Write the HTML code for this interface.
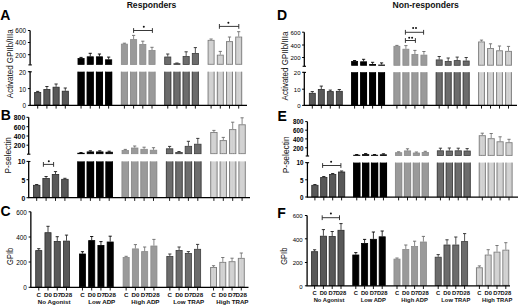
<!DOCTYPE html>
<html><head><meta charset="utf-8"><style>
html,body{margin:0;padding:0;background:#fff;}
body{width:520px;height:307px;overflow:hidden;}
svg{display:block;font-family:"Liberation Sans", sans-serif;}
</style></head><body>
<svg width="520" height="307" viewBox="0 0 520 307">
<rect x="0" y="0" width="520" height="307" fill="#fff"/>
<rect x="34.62" y="92.40" width="6.15" height="12.60" fill="#585858" stroke="#2a2a2a" stroke-width="0.8"/>
<line x1="37.70" y1="91.40" x2="37.70" y2="92.00" stroke="#1a1a1a" stroke-width="0.8"/>
<line x1="36.10" y1="91.40" x2="39.30" y2="91.40" stroke="#1a1a1a" stroke-width="0.9"/>
<line x1="37.70" y1="105.40" x2="37.70" y2="108.60" stroke="#000" stroke-width="0.9"/>
<rect x="43.83" y="89.50" width="6.15" height="15.50" fill="#585858" stroke="#2a2a2a" stroke-width="0.8"/>
<line x1="46.90" y1="86.50" x2="46.90" y2="89.10" stroke="#1a1a1a" stroke-width="0.8"/>
<line x1="45.30" y1="86.50" x2="48.50" y2="86.50" stroke="#1a1a1a" stroke-width="0.9"/>
<line x1="46.90" y1="105.40" x2="46.90" y2="108.60" stroke="#000" stroke-width="0.9"/>
<rect x="53.02" y="87.20" width="6.15" height="17.80" fill="#585858" stroke="#2a2a2a" stroke-width="0.8"/>
<line x1="56.10" y1="84.00" x2="56.10" y2="86.80" stroke="#1a1a1a" stroke-width="0.8"/>
<line x1="54.50" y1="84.00" x2="57.70" y2="84.00" stroke="#1a1a1a" stroke-width="0.9"/>
<line x1="56.10" y1="105.40" x2="56.10" y2="108.60" stroke="#000" stroke-width="0.9"/>
<rect x="62.22" y="91.20" width="6.15" height="13.80" fill="#585858" stroke="#2a2a2a" stroke-width="0.8"/>
<line x1="65.30" y1="88.00" x2="65.30" y2="90.80" stroke="#1a1a1a" stroke-width="0.8"/>
<line x1="63.70" y1="88.00" x2="66.90" y2="88.00" stroke="#1a1a1a" stroke-width="0.9"/>
<line x1="65.30" y1="105.40" x2="65.30" y2="108.60" stroke="#000" stroke-width="0.9"/>
<rect x="77.98" y="58.50" width="6.15" height="5.90" fill="#000000" stroke="#000000" stroke-width="0.8"/>
<rect x="77.58" y="71.70" width="6.95" height="33.70" fill="#000000"/>
<line x1="77.98" y1="71.70" x2="77.98" y2="105.40" stroke="#000000" stroke-width="0.8"/>
<line x1="84.13" y1="71.70" x2="84.13" y2="105.40" stroke="#000000" stroke-width="0.8"/>
<line x1="81.05" y1="57.40" x2="81.05" y2="58.10" stroke="#000000" stroke-width="0.8"/>
<line x1="79.45" y1="57.40" x2="82.65" y2="57.40" stroke="#000000" stroke-width="0.9"/>
<line x1="81.05" y1="105.40" x2="81.05" y2="108.60" stroke="#000" stroke-width="0.9"/>
<rect x="87.18" y="56.80" width="6.15" height="7.60" fill="#000000" stroke="#000000" stroke-width="0.8"/>
<rect x="86.78" y="71.70" width="6.95" height="33.70" fill="#000000"/>
<line x1="87.18" y1="71.70" x2="87.18" y2="105.40" stroke="#000000" stroke-width="0.8"/>
<line x1="93.33" y1="71.70" x2="93.33" y2="105.40" stroke="#000000" stroke-width="0.8"/>
<line x1="90.25" y1="53.30" x2="90.25" y2="56.40" stroke="#000000" stroke-width="0.8"/>
<line x1="88.65" y1="53.30" x2="91.85" y2="53.30" stroke="#000000" stroke-width="0.9"/>
<line x1="90.25" y1="105.40" x2="90.25" y2="108.60" stroke="#000" stroke-width="0.9"/>
<rect x="96.38" y="56.80" width="6.15" height="7.60" fill="#000000" stroke="#000000" stroke-width="0.8"/>
<rect x="95.98" y="71.70" width="6.95" height="33.70" fill="#000000"/>
<line x1="96.38" y1="71.70" x2="96.38" y2="105.40" stroke="#000000" stroke-width="0.8"/>
<line x1="102.53" y1="71.70" x2="102.53" y2="105.40" stroke="#000000" stroke-width="0.8"/>
<line x1="99.45" y1="54.00" x2="99.45" y2="56.40" stroke="#000000" stroke-width="0.8"/>
<line x1="97.85" y1="54.00" x2="101.05" y2="54.00" stroke="#000000" stroke-width="0.9"/>
<line x1="99.45" y1="105.40" x2="99.45" y2="108.60" stroke="#000" stroke-width="0.9"/>
<rect x="105.58" y="59.80" width="6.15" height="4.60" fill="#000000" stroke="#000000" stroke-width="0.8"/>
<rect x="105.18" y="71.70" width="6.95" height="33.70" fill="#000000"/>
<line x1="105.58" y1="71.70" x2="105.58" y2="105.40" stroke="#000000" stroke-width="0.8"/>
<line x1="111.73" y1="71.70" x2="111.73" y2="105.40" stroke="#000000" stroke-width="0.8"/>
<line x1="108.65" y1="57.10" x2="108.65" y2="59.40" stroke="#000000" stroke-width="0.8"/>
<line x1="107.05" y1="57.10" x2="110.25" y2="57.10" stroke="#000000" stroke-width="0.9"/>
<line x1="108.65" y1="105.40" x2="108.65" y2="108.60" stroke="#000" stroke-width="0.9"/>
<rect x="121.33" y="44.10" width="6.15" height="20.30" fill="#9a9a9a" stroke="#8a8a8a" stroke-width="0.8"/>
<rect x="120.93" y="71.70" width="6.95" height="33.70" fill="#9a9a9a"/>
<line x1="121.33" y1="71.70" x2="121.33" y2="105.40" stroke="#8a8a8a" stroke-width="0.8"/>
<line x1="127.48" y1="71.70" x2="127.48" y2="105.40" stroke="#8a8a8a" stroke-width="0.8"/>
<line x1="124.40" y1="43.20" x2="124.40" y2="43.70" stroke="#6a6a6a" stroke-width="0.8"/>
<line x1="122.80" y1="43.20" x2="126.00" y2="43.20" stroke="#6a6a6a" stroke-width="0.9"/>
<line x1="124.40" y1="105.40" x2="124.40" y2="108.60" stroke="#000" stroke-width="0.9"/>
<rect x="130.53" y="39.60" width="6.15" height="24.80" fill="#9a9a9a" stroke="#8a8a8a" stroke-width="0.8"/>
<rect x="130.12" y="71.70" width="6.95" height="33.70" fill="#9a9a9a"/>
<line x1="130.53" y1="71.70" x2="130.53" y2="105.40" stroke="#8a8a8a" stroke-width="0.8"/>
<line x1="136.67" y1="71.70" x2="136.67" y2="105.40" stroke="#8a8a8a" stroke-width="0.8"/>
<line x1="133.60" y1="35.40" x2="133.60" y2="39.20" stroke="#6a6a6a" stroke-width="0.8"/>
<line x1="132.00" y1="35.40" x2="135.20" y2="35.40" stroke="#6a6a6a" stroke-width="0.9"/>
<line x1="133.60" y1="105.40" x2="133.60" y2="108.60" stroke="#000" stroke-width="0.9"/>
<rect x="139.73" y="44.40" width="6.15" height="20.00" fill="#9a9a9a" stroke="#8a8a8a" stroke-width="0.8"/>
<rect x="139.33" y="71.70" width="6.95" height="33.70" fill="#9a9a9a"/>
<line x1="139.73" y1="71.70" x2="139.73" y2="105.40" stroke="#8a8a8a" stroke-width="0.8"/>
<line x1="145.88" y1="71.70" x2="145.88" y2="105.40" stroke="#8a8a8a" stroke-width="0.8"/>
<line x1="142.80" y1="41.20" x2="142.80" y2="44.00" stroke="#6a6a6a" stroke-width="0.8"/>
<line x1="141.20" y1="41.20" x2="144.40" y2="41.20" stroke="#6a6a6a" stroke-width="0.9"/>
<line x1="142.80" y1="105.40" x2="142.80" y2="108.60" stroke="#000" stroke-width="0.9"/>
<rect x="148.93" y="50.40" width="6.15" height="14.00" fill="#9a9a9a" stroke="#8a8a8a" stroke-width="0.8"/>
<rect x="148.53" y="71.70" width="6.95" height="33.70" fill="#9a9a9a"/>
<line x1="148.93" y1="71.70" x2="148.93" y2="105.40" stroke="#8a8a8a" stroke-width="0.8"/>
<line x1="155.07" y1="71.70" x2="155.07" y2="105.40" stroke="#8a8a8a" stroke-width="0.8"/>
<line x1="152.00" y1="47.30" x2="152.00" y2="50.00" stroke="#6a6a6a" stroke-width="0.8"/>
<line x1="150.40" y1="47.30" x2="153.60" y2="47.30" stroke="#6a6a6a" stroke-width="0.9"/>
<line x1="152.00" y1="105.40" x2="152.00" y2="108.60" stroke="#000" stroke-width="0.9"/>
<rect x="164.68" y="57.00" width="6.15" height="7.40" fill="#6c6c6c" stroke="#3c3c3c" stroke-width="0.8"/>
<rect x="164.28" y="71.70" width="6.95" height="33.70" fill="#6c6c6c"/>
<line x1="164.68" y1="71.70" x2="164.68" y2="105.40" stroke="#3c3c3c" stroke-width="0.8"/>
<line x1="170.82" y1="71.70" x2="170.82" y2="105.40" stroke="#3c3c3c" stroke-width="0.8"/>
<line x1="167.75" y1="54.00" x2="167.75" y2="56.60" stroke="#2a2a2a" stroke-width="0.8"/>
<line x1="166.15" y1="54.00" x2="169.35" y2="54.00" stroke="#2a2a2a" stroke-width="0.9"/>
<line x1="167.75" y1="105.40" x2="167.75" y2="108.60" stroke="#000" stroke-width="0.9"/>
<rect x="173.88" y="63.70" width="6.15" height="0.70" fill="#6c6c6c" stroke="#3c3c3c" stroke-width="0.8"/>
<rect x="173.47" y="71.70" width="6.95" height="33.70" fill="#6c6c6c"/>
<line x1="173.88" y1="71.70" x2="173.88" y2="105.40" stroke="#3c3c3c" stroke-width="0.8"/>
<line x1="180.02" y1="71.70" x2="180.02" y2="105.40" stroke="#3c3c3c" stroke-width="0.8"/>
<line x1="176.95" y1="63.00" x2="176.95" y2="63.30" stroke="#2a2a2a" stroke-width="0.8"/>
<line x1="175.35" y1="63.00" x2="178.55" y2="63.00" stroke="#2a2a2a" stroke-width="0.9"/>
<line x1="176.95" y1="105.40" x2="176.95" y2="108.60" stroke="#000" stroke-width="0.9"/>
<rect x="183.08" y="56.50" width="6.15" height="7.90" fill="#6c6c6c" stroke="#3c3c3c" stroke-width="0.8"/>
<rect x="182.68" y="71.70" width="6.95" height="33.70" fill="#6c6c6c"/>
<line x1="183.08" y1="71.70" x2="183.08" y2="105.40" stroke="#3c3c3c" stroke-width="0.8"/>
<line x1="189.22" y1="71.70" x2="189.22" y2="105.40" stroke="#3c3c3c" stroke-width="0.8"/>
<line x1="186.15" y1="51.80" x2="186.15" y2="56.10" stroke="#2a2a2a" stroke-width="0.8"/>
<line x1="184.55" y1="51.80" x2="187.75" y2="51.80" stroke="#2a2a2a" stroke-width="0.9"/>
<line x1="186.15" y1="105.40" x2="186.15" y2="108.60" stroke="#000" stroke-width="0.9"/>
<rect x="192.28" y="53.40" width="6.15" height="11.00" fill="#6c6c6c" stroke="#3c3c3c" stroke-width="0.8"/>
<rect x="191.88" y="71.70" width="6.95" height="33.70" fill="#6c6c6c"/>
<line x1="192.28" y1="71.70" x2="192.28" y2="105.40" stroke="#3c3c3c" stroke-width="0.8"/>
<line x1="198.42" y1="71.70" x2="198.42" y2="105.40" stroke="#3c3c3c" stroke-width="0.8"/>
<line x1="195.35" y1="47.60" x2="195.35" y2="53.00" stroke="#2a2a2a" stroke-width="0.8"/>
<line x1="193.75" y1="47.60" x2="196.95" y2="47.60" stroke="#2a2a2a" stroke-width="0.9"/>
<line x1="195.35" y1="105.40" x2="195.35" y2="108.60" stroke="#000" stroke-width="0.9"/>
<rect x="208.13" y="40.40" width="5.95" height="23.90" fill="#d8d8d8" stroke="#808080" stroke-width="1.0"/>
<rect x="207.63" y="71.70" width="6.95" height="33.70" fill="#d8d8d8"/>
<line x1="208.13" y1="71.70" x2="208.13" y2="105.40" stroke="#808080" stroke-width="1.0"/>
<line x1="214.08" y1="71.70" x2="214.08" y2="105.40" stroke="#808080" stroke-width="1.0"/>
<line x1="209.36" y1="40.40" x2="209.36" y2="64.50" stroke="#c4c4c4" stroke-width="0.5"/>
<line x1="209.36" y1="72.00" x2="209.36" y2="105.10" stroke="#c4c4c4" stroke-width="0.5"/>
<line x1="211.10" y1="40.40" x2="211.10" y2="64.50" stroke="#c4c4c4" stroke-width="0.5"/>
<line x1="211.10" y1="72.00" x2="211.10" y2="105.10" stroke="#c4c4c4" stroke-width="0.5"/>
<line x1="212.84" y1="40.40" x2="212.84" y2="64.50" stroke="#c4c4c4" stroke-width="0.5"/>
<line x1="212.84" y1="72.00" x2="212.84" y2="105.10" stroke="#c4c4c4" stroke-width="0.5"/>
<line x1="211.10" y1="39.00" x2="211.10" y2="39.90" stroke="#6c6c6c" stroke-width="0.8"/>
<line x1="209.50" y1="39.00" x2="212.70" y2="39.00" stroke="#6c6c6c" stroke-width="0.9"/>
<line x1="211.10" y1="105.40" x2="211.10" y2="108.60" stroke="#000" stroke-width="0.9"/>
<rect x="217.33" y="55.20" width="5.95" height="9.10" fill="#d8d8d8" stroke="#808080" stroke-width="1.0"/>
<rect x="216.83" y="71.70" width="6.95" height="33.70" fill="#d8d8d8"/>
<line x1="217.33" y1="71.70" x2="217.33" y2="105.40" stroke="#808080" stroke-width="1.0"/>
<line x1="223.28" y1="71.70" x2="223.28" y2="105.40" stroke="#808080" stroke-width="1.0"/>
<line x1="218.56" y1="55.20" x2="218.56" y2="64.50" stroke="#c4c4c4" stroke-width="0.5"/>
<line x1="218.56" y1="72.00" x2="218.56" y2="105.10" stroke="#c4c4c4" stroke-width="0.5"/>
<line x1="220.30" y1="55.20" x2="220.30" y2="64.50" stroke="#c4c4c4" stroke-width="0.5"/>
<line x1="220.30" y1="72.00" x2="220.30" y2="105.10" stroke="#c4c4c4" stroke-width="0.5"/>
<line x1="222.04" y1="55.20" x2="222.04" y2="64.50" stroke="#c4c4c4" stroke-width="0.5"/>
<line x1="222.04" y1="72.00" x2="222.04" y2="105.10" stroke="#c4c4c4" stroke-width="0.5"/>
<line x1="220.30" y1="51.40" x2="220.30" y2="54.70" stroke="#6c6c6c" stroke-width="0.8"/>
<line x1="218.70" y1="51.40" x2="221.90" y2="51.40" stroke="#6c6c6c" stroke-width="0.9"/>
<line x1="220.30" y1="105.40" x2="220.30" y2="108.60" stroke="#000" stroke-width="0.9"/>
<rect x="226.53" y="41.60" width="5.95" height="22.70" fill="#d8d8d8" stroke="#808080" stroke-width="1.0"/>
<rect x="226.03" y="71.70" width="6.95" height="33.70" fill="#d8d8d8"/>
<line x1="226.53" y1="71.70" x2="226.53" y2="105.40" stroke="#808080" stroke-width="1.0"/>
<line x1="232.48" y1="71.70" x2="232.48" y2="105.40" stroke="#808080" stroke-width="1.0"/>
<line x1="227.76" y1="41.60" x2="227.76" y2="64.50" stroke="#c4c4c4" stroke-width="0.5"/>
<line x1="227.76" y1="72.00" x2="227.76" y2="105.10" stroke="#c4c4c4" stroke-width="0.5"/>
<line x1="229.50" y1="41.60" x2="229.50" y2="64.50" stroke="#c4c4c4" stroke-width="0.5"/>
<line x1="229.50" y1="72.00" x2="229.50" y2="105.10" stroke="#c4c4c4" stroke-width="0.5"/>
<line x1="231.24" y1="41.60" x2="231.24" y2="64.50" stroke="#c4c4c4" stroke-width="0.5"/>
<line x1="231.24" y1="72.00" x2="231.24" y2="105.10" stroke="#c4c4c4" stroke-width="0.5"/>
<line x1="229.50" y1="37.00" x2="229.50" y2="41.10" stroke="#6c6c6c" stroke-width="0.8"/>
<line x1="227.90" y1="37.00" x2="231.10" y2="37.00" stroke="#6c6c6c" stroke-width="0.9"/>
<line x1="229.50" y1="105.40" x2="229.50" y2="108.60" stroke="#000" stroke-width="0.9"/>
<rect x="235.73" y="37.10" width="5.95" height="27.20" fill="#d8d8d8" stroke="#808080" stroke-width="1.0"/>
<rect x="235.23" y="71.70" width="6.95" height="33.70" fill="#d8d8d8"/>
<line x1="235.73" y1="71.70" x2="235.73" y2="105.40" stroke="#808080" stroke-width="1.0"/>
<line x1="241.68" y1="71.70" x2="241.68" y2="105.40" stroke="#808080" stroke-width="1.0"/>
<line x1="236.96" y1="37.10" x2="236.96" y2="64.50" stroke="#c4c4c4" stroke-width="0.5"/>
<line x1="236.96" y1="72.00" x2="236.96" y2="105.10" stroke="#c4c4c4" stroke-width="0.5"/>
<line x1="238.70" y1="37.10" x2="238.70" y2="64.50" stroke="#c4c4c4" stroke-width="0.5"/>
<line x1="238.70" y1="72.00" x2="238.70" y2="105.10" stroke="#c4c4c4" stroke-width="0.5"/>
<line x1="240.44" y1="37.10" x2="240.44" y2="64.50" stroke="#c4c4c4" stroke-width="0.5"/>
<line x1="240.44" y1="72.00" x2="240.44" y2="105.10" stroke="#c4c4c4" stroke-width="0.5"/>
<line x1="238.70" y1="31.70" x2="238.70" y2="36.60" stroke="#6c6c6c" stroke-width="0.8"/>
<line x1="237.10" y1="31.70" x2="240.30" y2="31.70" stroke="#6c6c6c" stroke-width="0.9"/>
<line x1="238.70" y1="105.40" x2="238.70" y2="108.60" stroke="#000" stroke-width="0.9"/>
<line x1="29.50" y1="105.40" x2="247.00" y2="105.40" stroke="#000" stroke-width="1.25"/>
<line x1="30.10" y1="30.50" x2="30.10" y2="64.80" stroke="#000" stroke-width="1.3"/>
<line x1="30.10" y1="71.70" x2="30.10" y2="105.40" stroke="#000" stroke-width="1.3"/>
<line x1="28.40" y1="64.90" x2="31.80" y2="64.90" stroke="#000" stroke-width="1.1"/>
<line x1="29.10" y1="71.80" x2="31.80" y2="71.80" stroke="#000" stroke-width="1.1"/>
<line x1="27.90" y1="30.50" x2="30.10" y2="30.50" stroke="#000" stroke-width="1.0"/>
<text x="26.00" y="33.40" font-size="6.4" font-weight="normal" text-anchor="end" fill="#000">600</text>
<line x1="27.90" y1="42.50" x2="30.10" y2="42.50" stroke="#000" stroke-width="1.0"/>
<text x="26.00" y="45.40" font-size="6.4" font-weight="normal" text-anchor="end" fill="#000">400</text>
<line x1="27.90" y1="54.70" x2="30.10" y2="54.70" stroke="#000" stroke-width="1.0"/>
<text x="26.00" y="57.60" font-size="6.4" font-weight="normal" text-anchor="end" fill="#000">200</text>
<line x1="27.90" y1="71.70" x2="30.10" y2="71.70" stroke="#000" stroke-width="1.0"/>
<text x="26.00" y="74.60" font-size="6.4" font-weight="normal" text-anchor="end" fill="#000">20</text>
<line x1="27.90" y1="88.60" x2="30.10" y2="88.60" stroke="#000" stroke-width="1.0"/>
<text x="26.00" y="91.50" font-size="6.4" font-weight="normal" text-anchor="end" fill="#000">10</text>
<line x1="27.90" y1="105.40" x2="30.10" y2="105.40" stroke="#000" stroke-width="1.0"/>
<text x="26.00" y="108.30" font-size="6.4" font-weight="normal" text-anchor="end" fill="#000">0</text>
<line x1="133.60" y1="30.50" x2="152.40" y2="30.50" stroke="#222" stroke-width="0.9"/>
<line x1="133.60" y1="28.10" x2="133.60" y2="32.90" stroke="#222" stroke-width="0.9"/>
<line x1="152.40" y1="28.10" x2="152.40" y2="32.90" stroke="#222" stroke-width="0.9"/>
<circle cx="143.80" cy="26.70" r="1.0" fill="#111"/>
<line x1="219.40" y1="26.40" x2="238.80" y2="26.40" stroke="#222" stroke-width="0.9"/>
<line x1="219.40" y1="24.00" x2="219.40" y2="28.80" stroke="#222" stroke-width="0.9"/>
<line x1="238.80" y1="24.00" x2="238.80" y2="28.80" stroke="#222" stroke-width="0.9"/>
<circle cx="228.40" cy="22.80" r="1.0" fill="#111"/>
<text x="0" y="0" font-size="8" text-anchor="middle" fill="#111" transform="translate(13.20,63.80) scale(1.13,1) rotate(-90)">Activated GPIIb/IIIa</text>
<text x="0.30" y="20.40" font-size="14" font-weight="bold" text-anchor="start" fill="#000">A</text>
<rect x="33.45" y="185.30" width="6.50" height="12.00" fill="#585858" stroke="#2a2a2a" stroke-width="0.8"/>
<line x1="36.70" y1="184.50" x2="36.70" y2="184.90" stroke="#1a1a1a" stroke-width="0.8"/>
<line x1="35.10" y1="184.50" x2="38.30" y2="184.50" stroke="#1a1a1a" stroke-width="0.9"/>
<line x1="36.70" y1="197.70" x2="36.70" y2="200.90" stroke="#000" stroke-width="0.9"/>
<rect x="42.85" y="178.50" width="6.50" height="18.80" fill="#585858" stroke="#2a2a2a" stroke-width="0.8"/>
<line x1="46.10" y1="176.50" x2="46.10" y2="178.10" stroke="#1a1a1a" stroke-width="0.8"/>
<line x1="44.50" y1="176.50" x2="47.70" y2="176.50" stroke="#1a1a1a" stroke-width="0.9"/>
<line x1="46.10" y1="197.70" x2="46.10" y2="200.90" stroke="#000" stroke-width="0.9"/>
<rect x="52.25" y="174.40" width="6.50" height="22.90" fill="#585858" stroke="#2a2a2a" stroke-width="0.8"/>
<line x1="55.50" y1="171.60" x2="55.50" y2="174.00" stroke="#1a1a1a" stroke-width="0.8"/>
<line x1="53.90" y1="171.60" x2="57.10" y2="171.60" stroke="#1a1a1a" stroke-width="0.9"/>
<line x1="55.50" y1="197.70" x2="55.50" y2="200.90" stroke="#000" stroke-width="0.9"/>
<rect x="61.65" y="179.30" width="6.50" height="18.00" fill="#585858" stroke="#2a2a2a" stroke-width="0.8"/>
<line x1="64.90" y1="178.30" x2="64.90" y2="178.90" stroke="#1a1a1a" stroke-width="0.8"/>
<line x1="63.30" y1="178.30" x2="66.50" y2="178.30" stroke="#1a1a1a" stroke-width="0.9"/>
<line x1="64.90" y1="197.70" x2="64.90" y2="200.90" stroke="#000" stroke-width="0.9"/>
<rect x="77.75" y="153.20" width="6.50" height="0.50" fill="#000000" stroke="#000000" stroke-width="0.8"/>
<rect x="77.35" y="161.40" width="7.30" height="36.30" fill="#000000"/>
<line x1="77.75" y1="161.40" x2="77.75" y2="197.70" stroke="#000000" stroke-width="0.8"/>
<line x1="84.25" y1="161.40" x2="84.25" y2="197.70" stroke="#000000" stroke-width="0.8"/>
<line x1="81.00" y1="152.50" x2="81.00" y2="152.80" stroke="#000000" stroke-width="0.8"/>
<line x1="79.40" y1="152.50" x2="82.60" y2="152.50" stroke="#000000" stroke-width="0.9"/>
<line x1="81.00" y1="197.70" x2="81.00" y2="200.90" stroke="#000" stroke-width="0.9"/>
<rect x="87.15" y="151.90" width="6.50" height="1.80" fill="#000000" stroke="#000000" stroke-width="0.8"/>
<rect x="86.75" y="161.40" width="7.30" height="36.30" fill="#000000"/>
<line x1="87.15" y1="161.40" x2="87.15" y2="197.70" stroke="#000000" stroke-width="0.8"/>
<line x1="93.65" y1="161.40" x2="93.65" y2="197.70" stroke="#000000" stroke-width="0.8"/>
<line x1="90.40" y1="150.80" x2="90.40" y2="151.50" stroke="#000000" stroke-width="0.8"/>
<line x1="88.80" y1="150.80" x2="92.00" y2="150.80" stroke="#000000" stroke-width="0.9"/>
<line x1="90.40" y1="197.70" x2="90.40" y2="200.90" stroke="#000" stroke-width="0.9"/>
<rect x="96.55" y="151.90" width="6.50" height="1.80" fill="#000000" stroke="#000000" stroke-width="0.8"/>
<rect x="96.15" y="161.40" width="7.30" height="36.30" fill="#000000"/>
<line x1="96.55" y1="161.40" x2="96.55" y2="197.70" stroke="#000000" stroke-width="0.8"/>
<line x1="103.05" y1="161.40" x2="103.05" y2="197.70" stroke="#000000" stroke-width="0.8"/>
<line x1="99.80" y1="150.80" x2="99.80" y2="151.50" stroke="#000000" stroke-width="0.8"/>
<line x1="98.20" y1="150.80" x2="101.40" y2="150.80" stroke="#000000" stroke-width="0.9"/>
<line x1="99.80" y1="197.70" x2="99.80" y2="200.90" stroke="#000" stroke-width="0.9"/>
<rect x="105.95" y="152.20" width="6.50" height="1.50" fill="#000000" stroke="#000000" stroke-width="0.8"/>
<rect x="105.55" y="161.40" width="7.30" height="36.30" fill="#000000"/>
<line x1="105.95" y1="161.40" x2="105.95" y2="197.70" stroke="#000000" stroke-width="0.8"/>
<line x1="112.45" y1="161.40" x2="112.45" y2="197.70" stroke="#000000" stroke-width="0.8"/>
<line x1="109.20" y1="151.20" x2="109.20" y2="151.80" stroke="#000000" stroke-width="0.8"/>
<line x1="107.60" y1="151.20" x2="110.80" y2="151.20" stroke="#000000" stroke-width="0.9"/>
<line x1="109.20" y1="197.70" x2="109.20" y2="200.90" stroke="#000" stroke-width="0.9"/>
<rect x="122.05" y="150.50" width="6.50" height="3.20" fill="#9a9a9a" stroke="#8a8a8a" stroke-width="0.8"/>
<rect x="121.65" y="161.40" width="7.30" height="36.30" fill="#9a9a9a"/>
<line x1="122.05" y1="161.40" x2="122.05" y2="197.70" stroke="#8a8a8a" stroke-width="0.8"/>
<line x1="128.55" y1="161.40" x2="128.55" y2="197.70" stroke="#8a8a8a" stroke-width="0.8"/>
<line x1="125.30" y1="149.40" x2="125.30" y2="150.10" stroke="#6a6a6a" stroke-width="0.8"/>
<line x1="123.70" y1="149.40" x2="126.90" y2="149.40" stroke="#6a6a6a" stroke-width="0.9"/>
<line x1="125.30" y1="197.70" x2="125.30" y2="200.90" stroke="#000" stroke-width="0.9"/>
<rect x="131.45" y="148.00" width="6.50" height="5.70" fill="#9a9a9a" stroke="#8a8a8a" stroke-width="0.8"/>
<rect x="131.05" y="161.40" width="7.30" height="36.30" fill="#9a9a9a"/>
<line x1="131.45" y1="161.40" x2="131.45" y2="197.70" stroke="#8a8a8a" stroke-width="0.8"/>
<line x1="137.95" y1="161.40" x2="137.95" y2="197.70" stroke="#8a8a8a" stroke-width="0.8"/>
<line x1="134.70" y1="146.00" x2="134.70" y2="147.60" stroke="#6a6a6a" stroke-width="0.8"/>
<line x1="133.10" y1="146.00" x2="136.30" y2="146.00" stroke="#6a6a6a" stroke-width="0.9"/>
<line x1="134.70" y1="197.70" x2="134.70" y2="200.90" stroke="#000" stroke-width="0.9"/>
<rect x="140.85" y="149.30" width="6.50" height="4.40" fill="#9a9a9a" stroke="#8a8a8a" stroke-width="0.8"/>
<rect x="140.45" y="161.40" width="7.30" height="36.30" fill="#9a9a9a"/>
<line x1="140.85" y1="161.40" x2="140.85" y2="197.70" stroke="#8a8a8a" stroke-width="0.8"/>
<line x1="147.35" y1="161.40" x2="147.35" y2="197.70" stroke="#8a8a8a" stroke-width="0.8"/>
<line x1="144.10" y1="147.20" x2="144.10" y2="148.90" stroke="#6a6a6a" stroke-width="0.8"/>
<line x1="142.50" y1="147.20" x2="145.70" y2="147.20" stroke="#6a6a6a" stroke-width="0.9"/>
<line x1="144.10" y1="197.70" x2="144.10" y2="200.90" stroke="#000" stroke-width="0.9"/>
<rect x="150.25" y="150.20" width="6.50" height="3.50" fill="#9a9a9a" stroke="#8a8a8a" stroke-width="0.8"/>
<rect x="149.85" y="161.40" width="7.30" height="36.30" fill="#9a9a9a"/>
<line x1="150.25" y1="161.40" x2="150.25" y2="197.70" stroke="#8a8a8a" stroke-width="0.8"/>
<line x1="156.75" y1="161.40" x2="156.75" y2="197.70" stroke="#8a8a8a" stroke-width="0.8"/>
<line x1="153.50" y1="147.70" x2="153.50" y2="149.80" stroke="#6a6a6a" stroke-width="0.8"/>
<line x1="151.90" y1="147.70" x2="155.10" y2="147.70" stroke="#6a6a6a" stroke-width="0.9"/>
<line x1="153.50" y1="197.70" x2="153.50" y2="200.90" stroke="#000" stroke-width="0.9"/>
<rect x="166.35" y="148.80" width="6.50" height="4.90" fill="#6c6c6c" stroke="#3c3c3c" stroke-width="0.8"/>
<rect x="165.95" y="161.40" width="7.30" height="36.30" fill="#6c6c6c"/>
<line x1="166.35" y1="161.40" x2="166.35" y2="197.70" stroke="#3c3c3c" stroke-width="0.8"/>
<line x1="172.85" y1="161.40" x2="172.85" y2="197.70" stroke="#3c3c3c" stroke-width="0.8"/>
<line x1="169.60" y1="146.40" x2="169.60" y2="148.40" stroke="#2a2a2a" stroke-width="0.8"/>
<line x1="168.00" y1="146.40" x2="171.20" y2="146.40" stroke="#2a2a2a" stroke-width="0.9"/>
<line x1="169.60" y1="197.70" x2="169.60" y2="200.90" stroke="#000" stroke-width="0.9"/>
<rect x="175.75" y="152.40" width="6.50" height="1.30" fill="#6c6c6c" stroke="#3c3c3c" stroke-width="0.8"/>
<rect x="175.35" y="161.40" width="7.30" height="36.30" fill="#6c6c6c"/>
<line x1="175.75" y1="161.40" x2="175.75" y2="197.70" stroke="#3c3c3c" stroke-width="0.8"/>
<line x1="182.25" y1="161.40" x2="182.25" y2="197.70" stroke="#3c3c3c" stroke-width="0.8"/>
<line x1="179.00" y1="151.50" x2="179.00" y2="152.00" stroke="#2a2a2a" stroke-width="0.8"/>
<line x1="177.40" y1="151.50" x2="180.60" y2="151.50" stroke="#2a2a2a" stroke-width="0.9"/>
<line x1="179.00" y1="197.70" x2="179.00" y2="200.90" stroke="#000" stroke-width="0.9"/>
<rect x="185.15" y="146.30" width="6.50" height="7.40" fill="#6c6c6c" stroke="#3c3c3c" stroke-width="0.8"/>
<rect x="184.75" y="161.40" width="7.30" height="36.30" fill="#6c6c6c"/>
<line x1="185.15" y1="161.40" x2="185.15" y2="197.70" stroke="#3c3c3c" stroke-width="0.8"/>
<line x1="191.65" y1="161.40" x2="191.65" y2="197.70" stroke="#3c3c3c" stroke-width="0.8"/>
<line x1="188.40" y1="141.30" x2="188.40" y2="145.90" stroke="#2a2a2a" stroke-width="0.8"/>
<line x1="186.80" y1="141.30" x2="190.00" y2="141.30" stroke="#2a2a2a" stroke-width="0.9"/>
<line x1="188.40" y1="197.70" x2="188.40" y2="200.90" stroke="#000" stroke-width="0.9"/>
<rect x="194.55" y="144.20" width="6.50" height="9.50" fill="#6c6c6c" stroke="#3c3c3c" stroke-width="0.8"/>
<rect x="194.15" y="161.40" width="7.30" height="36.30" fill="#6c6c6c"/>
<line x1="194.55" y1="161.40" x2="194.55" y2="197.70" stroke="#3c3c3c" stroke-width="0.8"/>
<line x1="201.05" y1="161.40" x2="201.05" y2="197.70" stroke="#3c3c3c" stroke-width="0.8"/>
<line x1="197.80" y1="138.40" x2="197.80" y2="143.80" stroke="#2a2a2a" stroke-width="0.8"/>
<line x1="196.20" y1="138.40" x2="199.40" y2="138.40" stroke="#2a2a2a" stroke-width="0.9"/>
<line x1="197.80" y1="197.70" x2="197.80" y2="200.90" stroke="#000" stroke-width="0.9"/>
<rect x="210.75" y="132.50" width="6.30" height="21.10" fill="#d8d8d8" stroke="#808080" stroke-width="1.0"/>
<rect x="210.25" y="161.40" width="7.30" height="36.30" fill="#d8d8d8"/>
<line x1="210.75" y1="161.40" x2="210.75" y2="197.70" stroke="#808080" stroke-width="1.0"/>
<line x1="217.05" y1="161.40" x2="217.05" y2="197.70" stroke="#808080" stroke-width="1.0"/>
<line x1="212.07" y1="132.50" x2="212.07" y2="153.80" stroke="#c4c4c4" stroke-width="0.5"/>
<line x1="212.07" y1="161.70" x2="212.07" y2="197.40" stroke="#c4c4c4" stroke-width="0.5"/>
<line x1="213.90" y1="132.50" x2="213.90" y2="153.80" stroke="#c4c4c4" stroke-width="0.5"/>
<line x1="213.90" y1="161.70" x2="213.90" y2="197.40" stroke="#c4c4c4" stroke-width="0.5"/>
<line x1="215.72" y1="132.50" x2="215.72" y2="153.80" stroke="#c4c4c4" stroke-width="0.5"/>
<line x1="215.72" y1="161.70" x2="215.72" y2="197.40" stroke="#c4c4c4" stroke-width="0.5"/>
<line x1="213.90" y1="130.40" x2="213.90" y2="132.00" stroke="#6c6c6c" stroke-width="0.8"/>
<line x1="212.30" y1="130.40" x2="215.50" y2="130.40" stroke="#6c6c6c" stroke-width="0.9"/>
<line x1="213.90" y1="197.70" x2="213.90" y2="200.90" stroke="#000" stroke-width="0.9"/>
<rect x="220.15" y="140.60" width="6.30" height="13.00" fill="#d8d8d8" stroke="#808080" stroke-width="1.0"/>
<rect x="219.65" y="161.40" width="7.30" height="36.30" fill="#d8d8d8"/>
<line x1="220.15" y1="161.40" x2="220.15" y2="197.70" stroke="#808080" stroke-width="1.0"/>
<line x1="226.45" y1="161.40" x2="226.45" y2="197.70" stroke="#808080" stroke-width="1.0"/>
<line x1="221.47" y1="140.60" x2="221.47" y2="153.80" stroke="#c4c4c4" stroke-width="0.5"/>
<line x1="221.47" y1="161.70" x2="221.47" y2="197.40" stroke="#c4c4c4" stroke-width="0.5"/>
<line x1="223.30" y1="140.60" x2="223.30" y2="153.80" stroke="#c4c4c4" stroke-width="0.5"/>
<line x1="223.30" y1="161.70" x2="223.30" y2="197.40" stroke="#c4c4c4" stroke-width="0.5"/>
<line x1="225.12" y1="140.60" x2="225.12" y2="153.80" stroke="#c4c4c4" stroke-width="0.5"/>
<line x1="225.12" y1="161.70" x2="225.12" y2="197.40" stroke="#c4c4c4" stroke-width="0.5"/>
<line x1="223.30" y1="137.40" x2="223.30" y2="140.10" stroke="#6c6c6c" stroke-width="0.8"/>
<line x1="221.70" y1="137.40" x2="224.90" y2="137.40" stroke="#6c6c6c" stroke-width="0.9"/>
<line x1="223.30" y1="197.70" x2="223.30" y2="200.90" stroke="#000" stroke-width="0.9"/>
<rect x="229.55" y="129.60" width="6.30" height="24.00" fill="#d8d8d8" stroke="#808080" stroke-width="1.0"/>
<rect x="229.05" y="161.40" width="7.30" height="36.30" fill="#d8d8d8"/>
<line x1="229.55" y1="161.40" x2="229.55" y2="197.70" stroke="#808080" stroke-width="1.0"/>
<line x1="235.85" y1="161.40" x2="235.85" y2="197.70" stroke="#808080" stroke-width="1.0"/>
<line x1="230.87" y1="129.60" x2="230.87" y2="153.80" stroke="#c4c4c4" stroke-width="0.5"/>
<line x1="230.87" y1="161.70" x2="230.87" y2="197.40" stroke="#c4c4c4" stroke-width="0.5"/>
<line x1="232.70" y1="129.60" x2="232.70" y2="153.80" stroke="#c4c4c4" stroke-width="0.5"/>
<line x1="232.70" y1="161.70" x2="232.70" y2="197.40" stroke="#c4c4c4" stroke-width="0.5"/>
<line x1="234.52" y1="129.60" x2="234.52" y2="153.80" stroke="#c4c4c4" stroke-width="0.5"/>
<line x1="234.52" y1="161.70" x2="234.52" y2="197.40" stroke="#c4c4c4" stroke-width="0.5"/>
<line x1="232.70" y1="122.20" x2="232.70" y2="129.10" stroke="#6c6c6c" stroke-width="0.8"/>
<line x1="231.10" y1="122.20" x2="234.30" y2="122.20" stroke="#6c6c6c" stroke-width="0.9"/>
<line x1="232.70" y1="197.70" x2="232.70" y2="200.90" stroke="#000" stroke-width="0.9"/>
<rect x="238.95" y="124.80" width="6.30" height="28.80" fill="#d8d8d8" stroke="#808080" stroke-width="1.0"/>
<rect x="238.45" y="161.40" width="7.30" height="36.30" fill="#d8d8d8"/>
<line x1="238.95" y1="161.40" x2="238.95" y2="197.70" stroke="#808080" stroke-width="1.0"/>
<line x1="245.25" y1="161.40" x2="245.25" y2="197.70" stroke="#808080" stroke-width="1.0"/>
<line x1="240.27" y1="124.80" x2="240.27" y2="153.80" stroke="#c4c4c4" stroke-width="0.5"/>
<line x1="240.27" y1="161.70" x2="240.27" y2="197.40" stroke="#c4c4c4" stroke-width="0.5"/>
<line x1="242.10" y1="124.80" x2="242.10" y2="153.80" stroke="#c4c4c4" stroke-width="0.5"/>
<line x1="242.10" y1="161.70" x2="242.10" y2="197.40" stroke="#c4c4c4" stroke-width="0.5"/>
<line x1="243.92" y1="124.80" x2="243.92" y2="153.80" stroke="#c4c4c4" stroke-width="0.5"/>
<line x1="243.92" y1="161.70" x2="243.92" y2="197.40" stroke="#c4c4c4" stroke-width="0.5"/>
<line x1="242.10" y1="117.80" x2="242.10" y2="124.30" stroke="#6c6c6c" stroke-width="0.8"/>
<line x1="240.50" y1="117.80" x2="243.70" y2="117.80" stroke="#6c6c6c" stroke-width="0.9"/>
<line x1="242.10" y1="197.70" x2="242.10" y2="200.90" stroke="#000" stroke-width="0.9"/>
<line x1="28.10" y1="197.70" x2="250.00" y2="197.70" stroke="#000" stroke-width="1.25"/>
<line x1="28.70" y1="117.30" x2="28.70" y2="154.10" stroke="#000" stroke-width="1.3"/>
<line x1="28.70" y1="161.40" x2="28.70" y2="197.70" stroke="#000" stroke-width="1.3"/>
<line x1="27.00" y1="154.20" x2="30.40" y2="154.20" stroke="#000" stroke-width="1.1"/>
<line x1="27.70" y1="161.50" x2="30.40" y2="161.50" stroke="#000" stroke-width="1.1"/>
<line x1="26.50" y1="117.30" x2="28.70" y2="117.30" stroke="#000" stroke-width="1.0"/>
<text x="25.20" y="120.35" font-size="6.8" font-weight="bold" text-anchor="end" fill="#000">800</text>
<line x1="26.50" y1="126.70" x2="28.70" y2="126.70" stroke="#000" stroke-width="1.0"/>
<text x="25.20" y="129.75" font-size="6.8" font-weight="bold" text-anchor="end" fill="#000">600</text>
<line x1="26.50" y1="136.00" x2="28.70" y2="136.00" stroke="#000" stroke-width="1.0"/>
<text x="25.20" y="139.05" font-size="6.8" font-weight="bold" text-anchor="end" fill="#000">400</text>
<line x1="26.50" y1="145.20" x2="28.70" y2="145.20" stroke="#000" stroke-width="1.0"/>
<text x="25.20" y="148.25" font-size="6.8" font-weight="bold" text-anchor="end" fill="#000">200</text>
<line x1="26.50" y1="161.40" x2="28.70" y2="161.40" stroke="#000" stroke-width="1.0"/>
<text x="25.20" y="164.45" font-size="6.8" font-weight="bold" text-anchor="end" fill="#000">10</text>
<line x1="26.50" y1="179.70" x2="28.70" y2="179.70" stroke="#000" stroke-width="1.0"/>
<text x="25.20" y="182.75" font-size="6.8" font-weight="bold" text-anchor="end" fill="#000">5</text>
<line x1="26.50" y1="197.70" x2="28.70" y2="197.70" stroke="#000" stroke-width="1.0"/>
<text x="25.20" y="200.75" font-size="6.8" font-weight="bold" text-anchor="end" fill="#000">0</text>
<line x1="43.40" y1="164.40" x2="53.60" y2="164.40" stroke="#222" stroke-width="0.9"/>
<line x1="43.40" y1="162.00" x2="43.40" y2="166.80" stroke="#222" stroke-width="0.9"/>
<line x1="53.60" y1="162.00" x2="53.60" y2="166.80" stroke="#222" stroke-width="0.9"/>
<circle cx="48.80" cy="161.30" r="1.0" fill="#111"/>
<text x="0" y="0" font-size="8.35" text-anchor="middle" fill="#111" transform="translate(10.60,155.30) scale(1.13,1) rotate(-90)">P-selectin</text>
<text x="0.80" y="119.80" font-size="14" font-weight="bold" text-anchor="start" fill="#000">B</text>
<rect x="35.70" y="250.60" width="6.10" height="36.30" fill="#585858" stroke="#2a2a2a" stroke-width="0.8"/>
<line x1="38.75" y1="248.70" x2="38.75" y2="250.20" stroke="#1a1a1a" stroke-width="0.8"/>
<line x1="37.15" y1="248.70" x2="40.35" y2="248.70" stroke="#1a1a1a" stroke-width="0.9"/>
<line x1="38.75" y1="287.30" x2="38.75" y2="290.50" stroke="#000" stroke-width="0.9"/>
<rect x="44.95" y="232.70" width="6.10" height="54.20" fill="#585858" stroke="#2a2a2a" stroke-width="0.8"/>
<line x1="48.00" y1="226.30" x2="48.00" y2="232.30" stroke="#1a1a1a" stroke-width="0.8"/>
<line x1="46.40" y1="226.30" x2="49.60" y2="226.30" stroke="#1a1a1a" stroke-width="0.9"/>
<line x1="48.00" y1="287.30" x2="48.00" y2="290.50" stroke="#000" stroke-width="0.9"/>
<rect x="54.20" y="241.50" width="6.10" height="45.40" fill="#585858" stroke="#2a2a2a" stroke-width="0.8"/>
<line x1="57.25" y1="236.70" x2="57.25" y2="241.10" stroke="#1a1a1a" stroke-width="0.8"/>
<line x1="55.65" y1="236.70" x2="58.85" y2="236.70" stroke="#1a1a1a" stroke-width="0.9"/>
<line x1="57.25" y1="287.30" x2="57.25" y2="290.50" stroke="#000" stroke-width="0.9"/>
<rect x="63.45" y="241.10" width="6.10" height="45.80" fill="#585858" stroke="#2a2a2a" stroke-width="0.8"/>
<line x1="66.50" y1="235.10" x2="66.50" y2="240.70" stroke="#1a1a1a" stroke-width="0.8"/>
<line x1="64.90" y1="235.10" x2="68.10" y2="235.10" stroke="#1a1a1a" stroke-width="0.9"/>
<line x1="66.50" y1="287.30" x2="66.50" y2="290.50" stroke="#000" stroke-width="0.9"/>
<rect x="79.40" y="254.00" width="6.10" height="32.90" fill="#000000" stroke="#000000" stroke-width="0.8"/>
<line x1="82.45" y1="251.70" x2="82.45" y2="253.60" stroke="#000000" stroke-width="0.8"/>
<line x1="80.85" y1="251.70" x2="84.05" y2="251.70" stroke="#000000" stroke-width="0.9"/>
<line x1="82.45" y1="287.30" x2="82.45" y2="290.50" stroke="#000" stroke-width="0.9"/>
<rect x="88.65" y="240.60" width="6.10" height="46.30" fill="#000000" stroke="#000000" stroke-width="0.8"/>
<line x1="91.70" y1="236.50" x2="91.70" y2="240.20" stroke="#000000" stroke-width="0.8"/>
<line x1="90.10" y1="236.50" x2="93.30" y2="236.50" stroke="#000000" stroke-width="0.9"/>
<line x1="91.70" y1="287.30" x2="91.70" y2="290.50" stroke="#000" stroke-width="0.9"/>
<rect x="97.90" y="245.40" width="6.10" height="41.50" fill="#000000" stroke="#000000" stroke-width="0.8"/>
<line x1="100.95" y1="241.60" x2="100.95" y2="245.00" stroke="#000000" stroke-width="0.8"/>
<line x1="99.35" y1="241.60" x2="102.55" y2="241.60" stroke="#000000" stroke-width="0.9"/>
<line x1="100.95" y1="287.30" x2="100.95" y2="290.50" stroke="#000" stroke-width="0.9"/>
<rect x="107.15" y="242.00" width="6.10" height="44.90" fill="#000000" stroke="#000000" stroke-width="0.8"/>
<line x1="110.20" y1="236.20" x2="110.20" y2="241.60" stroke="#000000" stroke-width="0.8"/>
<line x1="108.60" y1="236.20" x2="111.80" y2="236.20" stroke="#000000" stroke-width="0.9"/>
<line x1="110.20" y1="287.30" x2="110.20" y2="290.50" stroke="#000" stroke-width="0.9"/>
<rect x="123.10" y="257.40" width="6.10" height="29.50" fill="#9a9a9a" stroke="#8a8a8a" stroke-width="0.8"/>
<line x1="126.15" y1="256.30" x2="126.15" y2="257.00" stroke="#6a6a6a" stroke-width="0.8"/>
<line x1="124.55" y1="256.30" x2="127.75" y2="256.30" stroke="#6a6a6a" stroke-width="0.9"/>
<line x1="126.15" y1="287.30" x2="126.15" y2="290.50" stroke="#000" stroke-width="0.9"/>
<rect x="132.35" y="248.90" width="6.10" height="38.00" fill="#9a9a9a" stroke="#8a8a8a" stroke-width="0.8"/>
<line x1="135.40" y1="244.60" x2="135.40" y2="248.50" stroke="#6a6a6a" stroke-width="0.8"/>
<line x1="133.80" y1="244.60" x2="137.00" y2="244.60" stroke="#6a6a6a" stroke-width="0.9"/>
<line x1="135.40" y1="287.30" x2="135.40" y2="290.50" stroke="#000" stroke-width="0.9"/>
<rect x="141.60" y="251.60" width="6.10" height="35.30" fill="#9a9a9a" stroke="#8a8a8a" stroke-width="0.8"/>
<line x1="144.65" y1="247.00" x2="144.65" y2="251.20" stroke="#6a6a6a" stroke-width="0.8"/>
<line x1="143.05" y1="247.00" x2="146.25" y2="247.00" stroke="#6a6a6a" stroke-width="0.9"/>
<line x1="144.65" y1="287.30" x2="144.65" y2="290.50" stroke="#000" stroke-width="0.9"/>
<rect x="150.85" y="246.00" width="6.10" height="40.90" fill="#9a9a9a" stroke="#8a8a8a" stroke-width="0.8"/>
<line x1="153.90" y1="239.40" x2="153.90" y2="245.60" stroke="#6a6a6a" stroke-width="0.8"/>
<line x1="152.30" y1="239.40" x2="155.50" y2="239.40" stroke="#6a6a6a" stroke-width="0.9"/>
<line x1="153.90" y1="287.30" x2="153.90" y2="290.50" stroke="#000" stroke-width="0.9"/>
<rect x="166.80" y="256.40" width="6.10" height="30.50" fill="#6c6c6c" stroke="#3c3c3c" stroke-width="0.8"/>
<line x1="169.85" y1="254.00" x2="169.85" y2="256.00" stroke="#2a2a2a" stroke-width="0.8"/>
<line x1="168.25" y1="254.00" x2="171.45" y2="254.00" stroke="#2a2a2a" stroke-width="0.9"/>
<line x1="169.85" y1="287.30" x2="169.85" y2="290.50" stroke="#000" stroke-width="0.9"/>
<rect x="176.05" y="250.40" width="6.10" height="36.50" fill="#6c6c6c" stroke="#3c3c3c" stroke-width="0.8"/>
<line x1="179.10" y1="247.00" x2="179.10" y2="250.00" stroke="#2a2a2a" stroke-width="0.8"/>
<line x1="177.50" y1="247.00" x2="180.70" y2="247.00" stroke="#2a2a2a" stroke-width="0.9"/>
<line x1="179.10" y1="287.30" x2="179.10" y2="290.50" stroke="#000" stroke-width="0.9"/>
<rect x="185.30" y="253.40" width="6.10" height="33.50" fill="#6c6c6c" stroke="#3c3c3c" stroke-width="0.8"/>
<line x1="188.35" y1="251.60" x2="188.35" y2="253.00" stroke="#2a2a2a" stroke-width="0.8"/>
<line x1="186.75" y1="251.60" x2="189.95" y2="251.60" stroke="#2a2a2a" stroke-width="0.9"/>
<line x1="188.35" y1="287.30" x2="188.35" y2="290.50" stroke="#000" stroke-width="0.9"/>
<rect x="194.55" y="249.30" width="6.10" height="37.60" fill="#6c6c6c" stroke="#3c3c3c" stroke-width="0.8"/>
<line x1="197.60" y1="244.40" x2="197.60" y2="248.90" stroke="#2a2a2a" stroke-width="0.8"/>
<line x1="196.00" y1="244.40" x2="199.20" y2="244.40" stroke="#2a2a2a" stroke-width="0.9"/>
<line x1="197.60" y1="287.30" x2="197.60" y2="290.50" stroke="#000" stroke-width="0.9"/>
<rect x="210.60" y="267.50" width="5.90" height="19.30" fill="#d8d8d8" stroke="#808080" stroke-width="1.0"/>
<line x1="211.83" y1="267.50" x2="211.83" y2="287.00" stroke="#c4c4c4" stroke-width="0.5"/>
<line x1="213.55" y1="267.50" x2="213.55" y2="287.00" stroke="#c4c4c4" stroke-width="0.5"/>
<line x1="215.28" y1="267.50" x2="215.28" y2="287.00" stroke="#c4c4c4" stroke-width="0.5"/>
<line x1="213.55" y1="265.70" x2="213.55" y2="267.00" stroke="#6c6c6c" stroke-width="0.8"/>
<line x1="211.95" y1="265.70" x2="215.15" y2="265.70" stroke="#6c6c6c" stroke-width="0.9"/>
<line x1="213.55" y1="287.30" x2="213.55" y2="290.50" stroke="#000" stroke-width="0.9"/>
<rect x="219.85" y="262.40" width="5.90" height="24.40" fill="#d8d8d8" stroke="#808080" stroke-width="1.0"/>
<line x1="221.08" y1="262.40" x2="221.08" y2="287.00" stroke="#c4c4c4" stroke-width="0.5"/>
<line x1="222.80" y1="262.40" x2="222.80" y2="287.00" stroke="#c4c4c4" stroke-width="0.5"/>
<line x1="224.53" y1="262.40" x2="224.53" y2="287.00" stroke="#c4c4c4" stroke-width="0.5"/>
<line x1="222.80" y1="257.50" x2="222.80" y2="261.90" stroke="#6c6c6c" stroke-width="0.8"/>
<line x1="221.20" y1="257.50" x2="224.40" y2="257.50" stroke="#6c6c6c" stroke-width="0.9"/>
<line x1="222.80" y1="287.30" x2="222.80" y2="290.50" stroke="#000" stroke-width="0.9"/>
<rect x="229.10" y="261.70" width="5.90" height="25.10" fill="#d8d8d8" stroke="#808080" stroke-width="1.0"/>
<line x1="230.33" y1="261.70" x2="230.33" y2="287.00" stroke="#c4c4c4" stroke-width="0.5"/>
<line x1="232.05" y1="261.70" x2="232.05" y2="287.00" stroke="#c4c4c4" stroke-width="0.5"/>
<line x1="233.78" y1="261.70" x2="233.78" y2="287.00" stroke="#c4c4c4" stroke-width="0.5"/>
<line x1="232.05" y1="258.20" x2="232.05" y2="261.20" stroke="#6c6c6c" stroke-width="0.8"/>
<line x1="230.45" y1="258.20" x2="233.65" y2="258.20" stroke="#6c6c6c" stroke-width="0.9"/>
<line x1="232.05" y1="287.30" x2="232.05" y2="290.50" stroke="#000" stroke-width="0.9"/>
<rect x="238.35" y="258.40" width="5.90" height="28.40" fill="#d8d8d8" stroke="#808080" stroke-width="1.0"/>
<line x1="239.58" y1="258.40" x2="239.58" y2="287.00" stroke="#c4c4c4" stroke-width="0.5"/>
<line x1="241.30" y1="258.40" x2="241.30" y2="287.00" stroke="#c4c4c4" stroke-width="0.5"/>
<line x1="243.03" y1="258.40" x2="243.03" y2="287.00" stroke="#c4c4c4" stroke-width="0.5"/>
<line x1="241.30" y1="253.00" x2="241.30" y2="257.90" stroke="#6c6c6c" stroke-width="0.8"/>
<line x1="239.70" y1="253.00" x2="242.90" y2="253.00" stroke="#6c6c6c" stroke-width="0.9"/>
<line x1="241.30" y1="287.30" x2="241.30" y2="290.50" stroke="#000" stroke-width="0.9"/>
<line x1="30.25" y1="287.30" x2="248.50" y2="287.30" stroke="#000" stroke-width="1.25"/>
<line x1="30.85" y1="211.80" x2="30.85" y2="287.30" stroke="#000" stroke-width="1.3"/>
<line x1="28.65" y1="211.80" x2="30.85" y2="211.80" stroke="#000" stroke-width="1.0"/>
<text x="26.90" y="214.70" font-size="6.4" font-weight="normal" text-anchor="end" fill="#000">600</text>
<line x1="28.65" y1="237.00" x2="30.85" y2="237.00" stroke="#000" stroke-width="1.0"/>
<text x="26.90" y="239.90" font-size="6.4" font-weight="normal" text-anchor="end" fill="#000">400</text>
<line x1="28.65" y1="262.00" x2="30.85" y2="262.00" stroke="#000" stroke-width="1.0"/>
<text x="26.90" y="264.90" font-size="6.4" font-weight="normal" text-anchor="end" fill="#000">200</text>
<line x1="28.65" y1="287.30" x2="30.85" y2="287.30" stroke="#000" stroke-width="1.0"/>
<text x="26.90" y="290.20" font-size="6.4" font-weight="normal" text-anchor="end" fill="#000">0</text>
<text x="0" y="0" font-size="7.5" text-anchor="middle" fill="#111" transform="translate(12.60,256.40) scale(1.13,1) rotate(-90)">GPIb</text>
<text x="0.50" y="216.30" font-size="14" font-weight="bold" text-anchor="start" fill="#000">C</text>
<text x="38.75" y="296.60" font-size="6.2" font-weight="bold" text-anchor="middle" fill="#111">C</text>
<text x="48.00" y="296.60" font-size="6.2" font-weight="bold" text-anchor="middle" fill="#111">D0</text>
<text x="57.25" y="296.60" font-size="6.2" font-weight="bold" text-anchor="middle" fill="#111">D7</text>
<text x="66.50" y="296.60" font-size="6.2" font-weight="bold" text-anchor="middle" fill="#111">D28</text>
<text x="37.80" y="304.00" font-size="6.2" font-weight="bold" text-anchor="start" fill="#111">No Agonist</text>
<text x="82.45" y="296.60" font-size="6.2" font-weight="bold" text-anchor="middle" fill="#111">C</text>
<text x="91.70" y="296.60" font-size="6.2" font-weight="bold" text-anchor="middle" fill="#111">D0</text>
<text x="100.95" y="296.60" font-size="6.2" font-weight="bold" text-anchor="middle" fill="#111">D7</text>
<text x="110.20" y="296.60" font-size="6.2" font-weight="bold" text-anchor="middle" fill="#111">D28</text>
<text x="88.30" y="304.00" font-size="6.2" font-weight="bold" text-anchor="start" fill="#111">Low ADP</text>
<text x="126.15" y="296.60" font-size="6.2" font-weight="bold" text-anchor="middle" fill="#111">C</text>
<text x="135.40" y="296.60" font-size="6.2" font-weight="bold" text-anchor="middle" fill="#111">D0</text>
<text x="144.65" y="296.60" font-size="6.2" font-weight="bold" text-anchor="middle" fill="#111">D7</text>
<text x="153.90" y="296.60" font-size="6.2" font-weight="bold" text-anchor="middle" fill="#111">D28</text>
<text x="131.20" y="304.00" font-size="6.2" font-weight="bold" text-anchor="start" fill="#111">High ADP</text>
<text x="169.85" y="296.60" font-size="6.2" font-weight="bold" text-anchor="middle" fill="#111">C</text>
<text x="179.10" y="296.60" font-size="6.2" font-weight="bold" text-anchor="middle" fill="#111">D0</text>
<text x="188.35" y="296.60" font-size="6.2" font-weight="bold" text-anchor="middle" fill="#111">D7</text>
<text x="197.60" y="296.60" font-size="6.2" font-weight="bold" text-anchor="middle" fill="#111">D28</text>
<text x="173.30" y="304.00" font-size="6.2" font-weight="bold" text-anchor="start" fill="#111">Low TRAP</text>
<text x="213.55" y="296.60" font-size="6.2" font-weight="bold" text-anchor="middle" fill="#111">C</text>
<text x="222.80" y="296.60" font-size="6.2" font-weight="bold" text-anchor="middle" fill="#111">D0</text>
<text x="232.05" y="296.60" font-size="6.2" font-weight="bold" text-anchor="middle" fill="#111">D7</text>
<text x="241.30" y="296.60" font-size="6.2" font-weight="bold" text-anchor="middle" fill="#111">D28</text>
<text x="216.20" y="304.00" font-size="6.2" font-weight="bold" text-anchor="start" fill="#111">High TRAP</text>
<rect x="309.30" y="93.30" width="6.00" height="11.70" fill="#585858" stroke="#2a2a2a" stroke-width="0.8"/>
<line x1="312.30" y1="91.60" x2="312.30" y2="92.90" stroke="#1a1a1a" stroke-width="0.8"/>
<line x1="310.70" y1="91.60" x2="313.90" y2="91.60" stroke="#1a1a1a" stroke-width="0.9"/>
<line x1="312.30" y1="105.40" x2="312.30" y2="108.60" stroke="#000" stroke-width="0.9"/>
<rect x="318.30" y="89.50" width="6.00" height="15.50" fill="#585858" stroke="#2a2a2a" stroke-width="0.8"/>
<line x1="321.30" y1="86.10" x2="321.30" y2="89.10" stroke="#1a1a1a" stroke-width="0.8"/>
<line x1="319.70" y1="86.10" x2="322.90" y2="86.10" stroke="#1a1a1a" stroke-width="0.9"/>
<line x1="321.30" y1="105.40" x2="321.30" y2="108.60" stroke="#000" stroke-width="0.9"/>
<rect x="327.30" y="91.60" width="6.00" height="13.40" fill="#585858" stroke="#2a2a2a" stroke-width="0.8"/>
<line x1="330.30" y1="90.10" x2="330.30" y2="91.20" stroke="#1a1a1a" stroke-width="0.8"/>
<line x1="328.70" y1="90.10" x2="331.90" y2="90.10" stroke="#1a1a1a" stroke-width="0.9"/>
<line x1="330.30" y1="105.40" x2="330.30" y2="108.60" stroke="#000" stroke-width="0.9"/>
<rect x="336.30" y="91.30" width="6.00" height="13.70" fill="#585858" stroke="#2a2a2a" stroke-width="0.8"/>
<line x1="339.30" y1="89.50" x2="339.30" y2="90.90" stroke="#1a1a1a" stroke-width="0.8"/>
<line x1="337.70" y1="89.50" x2="340.90" y2="89.50" stroke="#1a1a1a" stroke-width="0.9"/>
<line x1="339.30" y1="105.40" x2="339.30" y2="108.60" stroke="#000" stroke-width="0.9"/>
<rect x="351.60" y="61.40" width="6.00" height="3.90" fill="#000000" stroke="#000000" stroke-width="0.8"/>
<rect x="351.20" y="72.20" width="6.80" height="33.20" fill="#000000"/>
<line x1="351.60" y1="72.20" x2="351.60" y2="105.40" stroke="#000000" stroke-width="0.8"/>
<line x1="357.60" y1="72.20" x2="357.60" y2="105.40" stroke="#000000" stroke-width="0.8"/>
<line x1="354.60" y1="60.50" x2="354.60" y2="61.00" stroke="#000000" stroke-width="0.8"/>
<line x1="353.00" y1="60.50" x2="356.20" y2="60.50" stroke="#000000" stroke-width="0.9"/>
<line x1="354.60" y1="105.40" x2="354.60" y2="108.60" stroke="#000" stroke-width="0.9"/>
<rect x="360.60" y="61.80" width="6.00" height="3.50" fill="#000000" stroke="#000000" stroke-width="0.8"/>
<rect x="360.20" y="72.20" width="6.80" height="33.20" fill="#000000"/>
<line x1="360.60" y1="72.20" x2="360.60" y2="105.40" stroke="#000000" stroke-width="0.8"/>
<line x1="366.60" y1="72.20" x2="366.60" y2="105.40" stroke="#000000" stroke-width="0.8"/>
<line x1="363.60" y1="59.30" x2="363.60" y2="61.40" stroke="#000000" stroke-width="0.8"/>
<line x1="362.00" y1="59.30" x2="365.20" y2="59.30" stroke="#000000" stroke-width="0.9"/>
<line x1="363.60" y1="105.40" x2="363.60" y2="108.60" stroke="#000" stroke-width="0.9"/>
<rect x="369.60" y="64.40" width="6.00" height="0.90" fill="#000000" stroke="#000000" stroke-width="0.8"/>
<rect x="369.20" y="72.20" width="6.80" height="33.20" fill="#000000"/>
<line x1="369.60" y1="72.20" x2="369.60" y2="105.40" stroke="#000000" stroke-width="0.8"/>
<line x1="375.60" y1="72.20" x2="375.60" y2="105.40" stroke="#000000" stroke-width="0.8"/>
<line x1="372.60" y1="62.30" x2="372.60" y2="64.00" stroke="#000000" stroke-width="0.8"/>
<line x1="371.00" y1="62.30" x2="374.20" y2="62.30" stroke="#000000" stroke-width="0.9"/>
<line x1="372.60" y1="105.40" x2="372.60" y2="108.60" stroke="#000" stroke-width="0.9"/>
<rect x="378.60" y="65.00" width="6.00" height="0.30" fill="#000000" stroke="#000000" stroke-width="0.8"/>
<rect x="378.20" y="72.20" width="6.80" height="33.20" fill="#000000"/>
<line x1="378.60" y1="72.20" x2="378.60" y2="105.40" stroke="#000000" stroke-width="0.8"/>
<line x1="384.60" y1="72.20" x2="384.60" y2="105.40" stroke="#000000" stroke-width="0.8"/>
<line x1="381.60" y1="62.90" x2="381.60" y2="64.60" stroke="#000000" stroke-width="0.8"/>
<line x1="380.00" y1="62.90" x2="383.20" y2="62.90" stroke="#000000" stroke-width="0.9"/>
<line x1="381.60" y1="105.40" x2="381.60" y2="108.60" stroke="#000" stroke-width="0.9"/>
<rect x="393.90" y="46.30" width="6.00" height="19.00" fill="#9a9a9a" stroke="#8a8a8a" stroke-width="0.8"/>
<rect x="393.50" y="72.20" width="6.80" height="33.20" fill="#9a9a9a"/>
<line x1="393.90" y1="72.20" x2="393.90" y2="105.40" stroke="#8a8a8a" stroke-width="0.8"/>
<line x1="399.90" y1="72.20" x2="399.90" y2="105.40" stroke="#8a8a8a" stroke-width="0.8"/>
<line x1="396.90" y1="45.40" x2="396.90" y2="45.90" stroke="#6a6a6a" stroke-width="0.8"/>
<line x1="395.30" y1="45.40" x2="398.50" y2="45.40" stroke="#6a6a6a" stroke-width="0.9"/>
<line x1="396.90" y1="105.40" x2="396.90" y2="108.60" stroke="#000" stroke-width="0.9"/>
<rect x="402.90" y="49.20" width="6.00" height="16.10" fill="#9a9a9a" stroke="#8a8a8a" stroke-width="0.8"/>
<rect x="402.50" y="72.20" width="6.80" height="33.20" fill="#9a9a9a"/>
<line x1="402.90" y1="72.20" x2="402.90" y2="105.40" stroke="#8a8a8a" stroke-width="0.8"/>
<line x1="408.90" y1="72.20" x2="408.90" y2="105.40" stroke="#8a8a8a" stroke-width="0.8"/>
<line x1="405.90" y1="45.60" x2="405.90" y2="48.80" stroke="#6a6a6a" stroke-width="0.8"/>
<line x1="404.30" y1="45.60" x2="407.50" y2="45.60" stroke="#6a6a6a" stroke-width="0.9"/>
<line x1="405.90" y1="105.40" x2="405.90" y2="108.60" stroke="#000" stroke-width="0.9"/>
<rect x="411.90" y="54.50" width="6.00" height="10.80" fill="#9a9a9a" stroke="#8a8a8a" stroke-width="0.8"/>
<rect x="411.50" y="72.20" width="6.80" height="33.20" fill="#9a9a9a"/>
<line x1="411.90" y1="72.20" x2="411.90" y2="105.40" stroke="#8a8a8a" stroke-width="0.8"/>
<line x1="417.90" y1="72.20" x2="417.90" y2="105.40" stroke="#8a8a8a" stroke-width="0.8"/>
<line x1="414.90" y1="50.40" x2="414.90" y2="54.10" stroke="#6a6a6a" stroke-width="0.8"/>
<line x1="413.30" y1="50.40" x2="416.50" y2="50.40" stroke="#6a6a6a" stroke-width="0.9"/>
<line x1="414.90" y1="105.40" x2="414.90" y2="108.60" stroke="#000" stroke-width="0.9"/>
<rect x="420.90" y="55.10" width="6.00" height="10.20" fill="#9a9a9a" stroke="#8a8a8a" stroke-width="0.8"/>
<rect x="420.50" y="72.20" width="6.80" height="33.20" fill="#9a9a9a"/>
<line x1="420.90" y1="72.20" x2="420.90" y2="105.40" stroke="#8a8a8a" stroke-width="0.8"/>
<line x1="426.90" y1="72.20" x2="426.90" y2="105.40" stroke="#8a8a8a" stroke-width="0.8"/>
<line x1="423.90" y1="51.50" x2="423.90" y2="54.70" stroke="#6a6a6a" stroke-width="0.8"/>
<line x1="422.30" y1="51.50" x2="425.50" y2="51.50" stroke="#6a6a6a" stroke-width="0.9"/>
<line x1="423.90" y1="105.40" x2="423.90" y2="108.60" stroke="#000" stroke-width="0.9"/>
<rect x="436.20" y="59.90" width="6.00" height="5.40" fill="#6c6c6c" stroke="#3c3c3c" stroke-width="0.8"/>
<rect x="435.80" y="72.20" width="6.80" height="33.20" fill="#6c6c6c"/>
<line x1="436.20" y1="72.20" x2="436.20" y2="105.40" stroke="#3c3c3c" stroke-width="0.8"/>
<line x1="442.20" y1="72.20" x2="442.20" y2="105.40" stroke="#3c3c3c" stroke-width="0.8"/>
<line x1="439.20" y1="56.50" x2="439.20" y2="59.50" stroke="#2a2a2a" stroke-width="0.8"/>
<line x1="437.60" y1="56.50" x2="440.80" y2="56.50" stroke="#2a2a2a" stroke-width="0.9"/>
<line x1="439.20" y1="105.40" x2="439.20" y2="108.60" stroke="#000" stroke-width="0.9"/>
<rect x="445.20" y="61.40" width="6.00" height="3.90" fill="#6c6c6c" stroke="#3c3c3c" stroke-width="0.8"/>
<rect x="444.80" y="72.20" width="6.80" height="33.20" fill="#6c6c6c"/>
<line x1="445.20" y1="72.20" x2="445.20" y2="105.40" stroke="#3c3c3c" stroke-width="0.8"/>
<line x1="451.20" y1="72.20" x2="451.20" y2="105.40" stroke="#3c3c3c" stroke-width="0.8"/>
<line x1="448.20" y1="58.00" x2="448.20" y2="61.00" stroke="#2a2a2a" stroke-width="0.8"/>
<line x1="446.60" y1="58.00" x2="449.80" y2="58.00" stroke="#2a2a2a" stroke-width="0.9"/>
<line x1="448.20" y1="105.40" x2="448.20" y2="108.60" stroke="#000" stroke-width="0.9"/>
<rect x="454.20" y="60.60" width="6.00" height="4.70" fill="#6c6c6c" stroke="#3c3c3c" stroke-width="0.8"/>
<rect x="453.80" y="72.20" width="6.80" height="33.20" fill="#6c6c6c"/>
<line x1="454.20" y1="72.20" x2="454.20" y2="105.40" stroke="#3c3c3c" stroke-width="0.8"/>
<line x1="460.20" y1="72.20" x2="460.20" y2="105.40" stroke="#3c3c3c" stroke-width="0.8"/>
<line x1="457.20" y1="57.10" x2="457.20" y2="60.20" stroke="#2a2a2a" stroke-width="0.8"/>
<line x1="455.60" y1="57.10" x2="458.80" y2="57.10" stroke="#2a2a2a" stroke-width="0.9"/>
<line x1="457.20" y1="105.40" x2="457.20" y2="108.60" stroke="#000" stroke-width="0.9"/>
<rect x="463.20" y="61.00" width="6.00" height="4.30" fill="#6c6c6c" stroke="#3c3c3c" stroke-width="0.8"/>
<rect x="462.80" y="72.20" width="6.80" height="33.20" fill="#6c6c6c"/>
<line x1="463.20" y1="72.20" x2="463.20" y2="105.40" stroke="#3c3c3c" stroke-width="0.8"/>
<line x1="469.20" y1="72.20" x2="469.20" y2="105.40" stroke="#3c3c3c" stroke-width="0.8"/>
<line x1="466.20" y1="57.50" x2="466.20" y2="60.60" stroke="#2a2a2a" stroke-width="0.8"/>
<line x1="464.60" y1="57.50" x2="467.80" y2="57.50" stroke="#2a2a2a" stroke-width="0.9"/>
<line x1="466.20" y1="105.40" x2="466.20" y2="108.60" stroke="#000" stroke-width="0.9"/>
<rect x="478.60" y="42.00" width="5.80" height="23.20" fill="#d8d8d8" stroke="#808080" stroke-width="1.0"/>
<rect x="478.10" y="72.20" width="6.80" height="33.20" fill="#d8d8d8"/>
<line x1="478.60" y1="72.20" x2="478.60" y2="105.40" stroke="#808080" stroke-width="1.0"/>
<line x1="484.40" y1="72.20" x2="484.40" y2="105.40" stroke="#808080" stroke-width="1.0"/>
<line x1="479.80" y1="42.00" x2="479.80" y2="65.40" stroke="#c4c4c4" stroke-width="0.5"/>
<line x1="479.80" y1="72.50" x2="479.80" y2="105.10" stroke="#c4c4c4" stroke-width="0.5"/>
<line x1="481.50" y1="42.00" x2="481.50" y2="65.40" stroke="#c4c4c4" stroke-width="0.5"/>
<line x1="481.50" y1="72.50" x2="481.50" y2="105.10" stroke="#c4c4c4" stroke-width="0.5"/>
<line x1="483.20" y1="42.00" x2="483.20" y2="65.40" stroke="#c4c4c4" stroke-width="0.5"/>
<line x1="483.20" y1="72.50" x2="483.20" y2="105.10" stroke="#c4c4c4" stroke-width="0.5"/>
<line x1="481.50" y1="40.10" x2="481.50" y2="41.50" stroke="#6c6c6c" stroke-width="0.8"/>
<line x1="479.90" y1="40.10" x2="483.10" y2="40.10" stroke="#6c6c6c" stroke-width="0.9"/>
<line x1="481.50" y1="105.40" x2="481.50" y2="108.60" stroke="#000" stroke-width="0.9"/>
<rect x="487.60" y="48.50" width="5.80" height="16.70" fill="#d8d8d8" stroke="#808080" stroke-width="1.0"/>
<rect x="487.10" y="72.20" width="6.80" height="33.20" fill="#d8d8d8"/>
<line x1="487.60" y1="72.20" x2="487.60" y2="105.40" stroke="#808080" stroke-width="1.0"/>
<line x1="493.40" y1="72.20" x2="493.40" y2="105.40" stroke="#808080" stroke-width="1.0"/>
<line x1="488.80" y1="48.50" x2="488.80" y2="65.40" stroke="#c4c4c4" stroke-width="0.5"/>
<line x1="488.80" y1="72.50" x2="488.80" y2="105.10" stroke="#c4c4c4" stroke-width="0.5"/>
<line x1="490.50" y1="48.50" x2="490.50" y2="65.40" stroke="#c4c4c4" stroke-width="0.5"/>
<line x1="490.50" y1="72.50" x2="490.50" y2="105.10" stroke="#c4c4c4" stroke-width="0.5"/>
<line x1="492.20" y1="48.50" x2="492.20" y2="65.40" stroke="#c4c4c4" stroke-width="0.5"/>
<line x1="492.20" y1="72.50" x2="492.20" y2="105.10" stroke="#c4c4c4" stroke-width="0.5"/>
<line x1="490.50" y1="43.80" x2="490.50" y2="48.00" stroke="#6c6c6c" stroke-width="0.8"/>
<line x1="488.90" y1="43.80" x2="492.10" y2="43.80" stroke="#6c6c6c" stroke-width="0.9"/>
<line x1="490.50" y1="105.40" x2="490.50" y2="108.60" stroke="#000" stroke-width="0.9"/>
<rect x="496.60" y="50.80" width="5.80" height="14.40" fill="#d8d8d8" stroke="#808080" stroke-width="1.0"/>
<rect x="496.10" y="72.20" width="6.80" height="33.20" fill="#d8d8d8"/>
<line x1="496.60" y1="72.20" x2="496.60" y2="105.40" stroke="#808080" stroke-width="1.0"/>
<line x1="502.40" y1="72.20" x2="502.40" y2="105.40" stroke="#808080" stroke-width="1.0"/>
<line x1="497.80" y1="50.80" x2="497.80" y2="65.40" stroke="#c4c4c4" stroke-width="0.5"/>
<line x1="497.80" y1="72.50" x2="497.80" y2="105.10" stroke="#c4c4c4" stroke-width="0.5"/>
<line x1="499.50" y1="50.80" x2="499.50" y2="65.40" stroke="#c4c4c4" stroke-width="0.5"/>
<line x1="499.50" y1="72.50" x2="499.50" y2="105.10" stroke="#c4c4c4" stroke-width="0.5"/>
<line x1="501.20" y1="50.80" x2="501.20" y2="65.40" stroke="#c4c4c4" stroke-width="0.5"/>
<line x1="501.20" y1="72.50" x2="501.20" y2="105.10" stroke="#c4c4c4" stroke-width="0.5"/>
<line x1="499.50" y1="46.00" x2="499.50" y2="50.30" stroke="#6c6c6c" stroke-width="0.8"/>
<line x1="497.90" y1="46.00" x2="501.10" y2="46.00" stroke="#6c6c6c" stroke-width="0.9"/>
<line x1="499.50" y1="105.40" x2="499.50" y2="108.60" stroke="#000" stroke-width="0.9"/>
<rect x="505.60" y="51.40" width="5.80" height="13.80" fill="#d8d8d8" stroke="#808080" stroke-width="1.0"/>
<rect x="505.10" y="72.20" width="6.80" height="33.20" fill="#d8d8d8"/>
<line x1="505.60" y1="72.20" x2="505.60" y2="105.40" stroke="#808080" stroke-width="1.0"/>
<line x1="511.40" y1="72.20" x2="511.40" y2="105.40" stroke="#808080" stroke-width="1.0"/>
<line x1="506.80" y1="51.40" x2="506.80" y2="65.40" stroke="#c4c4c4" stroke-width="0.5"/>
<line x1="506.80" y1="72.50" x2="506.80" y2="105.10" stroke="#c4c4c4" stroke-width="0.5"/>
<line x1="508.50" y1="51.40" x2="508.50" y2="65.40" stroke="#c4c4c4" stroke-width="0.5"/>
<line x1="508.50" y1="72.50" x2="508.50" y2="105.10" stroke="#c4c4c4" stroke-width="0.5"/>
<line x1="510.20" y1="51.40" x2="510.20" y2="65.40" stroke="#c4c4c4" stroke-width="0.5"/>
<line x1="510.20" y1="72.50" x2="510.20" y2="105.10" stroke="#c4c4c4" stroke-width="0.5"/>
<line x1="508.50" y1="46.40" x2="508.50" y2="50.90" stroke="#6c6c6c" stroke-width="0.8"/>
<line x1="506.90" y1="46.40" x2="510.10" y2="46.40" stroke="#6c6c6c" stroke-width="0.9"/>
<line x1="508.50" y1="105.40" x2="508.50" y2="108.60" stroke="#000" stroke-width="0.9"/>
<line x1="303.70" y1="105.40" x2="517.00" y2="105.40" stroke="#000" stroke-width="1.25"/>
<line x1="304.30" y1="32.20" x2="304.30" y2="66.20" stroke="#000" stroke-width="1.3"/>
<line x1="304.30" y1="72.30" x2="304.30" y2="105.40" stroke="#000" stroke-width="1.3"/>
<line x1="302.60" y1="66.30" x2="306.00" y2="66.30" stroke="#000" stroke-width="1.1"/>
<line x1="303.30" y1="72.40" x2="306.00" y2="72.40" stroke="#000" stroke-width="1.1"/>
<line x1="302.10" y1="32.20" x2="304.30" y2="32.20" stroke="#000" stroke-width="1.0"/>
<text x="300.50" y="34.96" font-size="6.0" font-weight="normal" text-anchor="end" fill="#000">600</text>
<line x1="302.10" y1="45.00" x2="304.30" y2="45.00" stroke="#000" stroke-width="1.0"/>
<text x="300.50" y="47.76" font-size="6.0" font-weight="normal" text-anchor="end" fill="#000">400</text>
<line x1="302.10" y1="57.50" x2="304.30" y2="57.50" stroke="#000" stroke-width="1.0"/>
<text x="300.50" y="60.26" font-size="6.0" font-weight="normal" text-anchor="end" fill="#000">200</text>
<line x1="302.10" y1="72.30" x2="304.30" y2="72.30" stroke="#000" stroke-width="1.0"/>
<text x="300.50" y="75.06" font-size="6.0" font-weight="normal" text-anchor="end" fill="#000">20</text>
<line x1="302.10" y1="89.20" x2="304.30" y2="89.20" stroke="#000" stroke-width="1.0"/>
<text x="300.50" y="91.96" font-size="6.0" font-weight="normal" text-anchor="end" fill="#000">10</text>
<line x1="302.10" y1="105.40" x2="304.30" y2="105.40" stroke="#000" stroke-width="1.0"/>
<text x="300.50" y="108.16" font-size="6.0" font-weight="normal" text-anchor="end" fill="#000">0</text>
<line x1="405.40" y1="32.30" x2="423.60" y2="32.30" stroke="#222" stroke-width="0.9"/>
<line x1="405.40" y1="29.90" x2="405.40" y2="34.70" stroke="#222" stroke-width="0.9"/>
<line x1="423.60" y1="29.90" x2="423.60" y2="34.70" stroke="#222" stroke-width="0.9"/>
<circle cx="413.10" cy="28.00" r="1.0" fill="#111"/>
<circle cx="416.00" cy="28.00" r="1.0" fill="#111"/>
<line x1="405.40" y1="40.50" x2="415.40" y2="40.50" stroke="#222" stroke-width="0.9"/>
<line x1="405.40" y1="38.10" x2="405.40" y2="42.90" stroke="#222" stroke-width="0.9"/>
<line x1="415.40" y1="38.10" x2="415.40" y2="42.90" stroke="#222" stroke-width="0.9"/>
<circle cx="409.20" cy="37.70" r="1.0" fill="#111"/>
<circle cx="412.10" cy="37.70" r="1.0" fill="#111"/>
<text x="0" y="0" font-size="8" text-anchor="middle" fill="#111" transform="translate(288.00,66.00) scale(1.13,1) rotate(-90)">Activated GPIIb/IIIa</text>
<text x="277.00" y="20.30" font-size="14" font-weight="bold" text-anchor="start" fill="#000">D</text>
<rect x="311.75" y="185.30" width="6.30" height="11.50" fill="#585858" stroke="#2a2a2a" stroke-width="0.8"/>
<line x1="314.90" y1="184.50" x2="314.90" y2="184.90" stroke="#1a1a1a" stroke-width="0.8"/>
<line x1="313.30" y1="184.50" x2="316.50" y2="184.50" stroke="#1a1a1a" stroke-width="0.9"/>
<line x1="314.90" y1="197.20" x2="314.90" y2="200.40" stroke="#000" stroke-width="0.9"/>
<rect x="320.65" y="177.50" width="6.30" height="19.30" fill="#585858" stroke="#2a2a2a" stroke-width="0.8"/>
<line x1="323.80" y1="176.50" x2="323.80" y2="177.10" stroke="#1a1a1a" stroke-width="0.8"/>
<line x1="322.20" y1="176.50" x2="325.40" y2="176.50" stroke="#1a1a1a" stroke-width="0.9"/>
<line x1="323.80" y1="197.20" x2="323.80" y2="200.40" stroke="#000" stroke-width="0.9"/>
<rect x="329.55" y="174.40" width="6.30" height="22.40" fill="#585858" stroke="#2a2a2a" stroke-width="0.8"/>
<line x1="332.70" y1="173.50" x2="332.70" y2="174.00" stroke="#1a1a1a" stroke-width="0.8"/>
<line x1="331.10" y1="173.50" x2="334.30" y2="173.50" stroke="#1a1a1a" stroke-width="0.9"/>
<line x1="332.70" y1="197.20" x2="332.70" y2="200.40" stroke="#000" stroke-width="0.9"/>
<rect x="338.45" y="172.00" width="6.30" height="24.80" fill="#585858" stroke="#2a2a2a" stroke-width="0.8"/>
<line x1="341.60" y1="171.00" x2="341.60" y2="171.60" stroke="#1a1a1a" stroke-width="0.8"/>
<line x1="340.00" y1="171.00" x2="343.20" y2="171.00" stroke="#1a1a1a" stroke-width="0.9"/>
<line x1="341.60" y1="197.20" x2="341.60" y2="200.40" stroke="#000" stroke-width="0.9"/>
<rect x="353.60" y="155.20" width="6.30" height="0.30" fill="#000000" stroke="#000000" stroke-width="0.8"/>
<rect x="353.20" y="162.60" width="7.10" height="34.60" fill="#000000"/>
<line x1="353.60" y1="162.60" x2="353.60" y2="197.20" stroke="#000000" stroke-width="0.8"/>
<line x1="359.90" y1="162.60" x2="359.90" y2="197.20" stroke="#000000" stroke-width="0.8"/>
<line x1="356.75" y1="154.50" x2="356.75" y2="154.80" stroke="#000000" stroke-width="0.8"/>
<line x1="355.15" y1="154.50" x2="358.35" y2="154.50" stroke="#000000" stroke-width="0.9"/>
<line x1="356.75" y1="197.20" x2="356.75" y2="200.40" stroke="#000" stroke-width="0.9"/>
<rect x="362.50" y="154.60" width="6.30" height="0.90" fill="#000000" stroke="#000000" stroke-width="0.8"/>
<rect x="362.10" y="162.60" width="7.10" height="34.60" fill="#000000"/>
<line x1="362.50" y1="162.60" x2="362.50" y2="197.20" stroke="#000000" stroke-width="0.8"/>
<line x1="368.80" y1="162.60" x2="368.80" y2="197.20" stroke="#000000" stroke-width="0.8"/>
<line x1="365.65" y1="153.60" x2="365.65" y2="154.20" stroke="#000000" stroke-width="0.8"/>
<line x1="364.05" y1="153.60" x2="367.25" y2="153.60" stroke="#000000" stroke-width="0.9"/>
<line x1="365.65" y1="197.20" x2="365.65" y2="200.40" stroke="#000" stroke-width="0.9"/>
<rect x="371.40" y="155.20" width="6.30" height="0.30" fill="#000000" stroke="#000000" stroke-width="0.8"/>
<rect x="371.00" y="162.60" width="7.10" height="34.60" fill="#000000"/>
<line x1="371.40" y1="162.60" x2="371.40" y2="197.20" stroke="#000000" stroke-width="0.8"/>
<line x1="377.70" y1="162.60" x2="377.70" y2="197.20" stroke="#000000" stroke-width="0.8"/>
<line x1="374.55" y1="154.50" x2="374.55" y2="154.80" stroke="#000000" stroke-width="0.8"/>
<line x1="372.95" y1="154.50" x2="376.15" y2="154.50" stroke="#000000" stroke-width="0.9"/>
<line x1="374.55" y1="197.20" x2="374.55" y2="200.40" stroke="#000" stroke-width="0.9"/>
<rect x="380.30" y="154.80" width="6.30" height="0.70" fill="#000000" stroke="#000000" stroke-width="0.8"/>
<rect x="379.90" y="162.60" width="7.10" height="34.60" fill="#000000"/>
<line x1="380.30" y1="162.60" x2="380.30" y2="197.20" stroke="#000000" stroke-width="0.8"/>
<line x1="386.60" y1="162.60" x2="386.60" y2="197.20" stroke="#000000" stroke-width="0.8"/>
<line x1="383.45" y1="153.80" x2="383.45" y2="154.40" stroke="#000000" stroke-width="0.8"/>
<line x1="381.85" y1="153.80" x2="385.05" y2="153.80" stroke="#000000" stroke-width="0.9"/>
<line x1="383.45" y1="197.20" x2="383.45" y2="200.40" stroke="#000" stroke-width="0.9"/>
<rect x="395.45" y="152.70" width="6.30" height="2.80" fill="#9a9a9a" stroke="#8a8a8a" stroke-width="0.8"/>
<rect x="395.05" y="162.60" width="7.10" height="34.60" fill="#9a9a9a"/>
<line x1="395.45" y1="162.60" x2="395.45" y2="197.20" stroke="#8a8a8a" stroke-width="0.8"/>
<line x1="401.75" y1="162.60" x2="401.75" y2="197.20" stroke="#8a8a8a" stroke-width="0.8"/>
<line x1="398.60" y1="151.80" x2="398.60" y2="152.30" stroke="#6a6a6a" stroke-width="0.8"/>
<line x1="397.00" y1="151.80" x2="400.20" y2="151.80" stroke="#6a6a6a" stroke-width="0.9"/>
<line x1="398.60" y1="197.20" x2="398.60" y2="200.40" stroke="#000" stroke-width="0.9"/>
<rect x="404.35" y="150.90" width="6.30" height="4.60" fill="#9a9a9a" stroke="#8a8a8a" stroke-width="0.8"/>
<rect x="403.95" y="162.60" width="7.10" height="34.60" fill="#9a9a9a"/>
<line x1="404.35" y1="162.60" x2="404.35" y2="197.20" stroke="#8a8a8a" stroke-width="0.8"/>
<line x1="410.65" y1="162.60" x2="410.65" y2="197.20" stroke="#8a8a8a" stroke-width="0.8"/>
<line x1="407.50" y1="148.80" x2="407.50" y2="150.50" stroke="#6a6a6a" stroke-width="0.8"/>
<line x1="405.90" y1="148.80" x2="409.10" y2="148.80" stroke="#6a6a6a" stroke-width="0.9"/>
<line x1="407.50" y1="197.20" x2="407.50" y2="200.40" stroke="#000" stroke-width="0.9"/>
<rect x="413.25" y="153.00" width="6.30" height="2.50" fill="#9a9a9a" stroke="#8a8a8a" stroke-width="0.8"/>
<rect x="412.85" y="162.60" width="7.10" height="34.60" fill="#9a9a9a"/>
<line x1="413.25" y1="162.60" x2="413.25" y2="197.20" stroke="#8a8a8a" stroke-width="0.8"/>
<line x1="419.55" y1="162.60" x2="419.55" y2="197.20" stroke="#8a8a8a" stroke-width="0.8"/>
<line x1="416.40" y1="152.00" x2="416.40" y2="152.60" stroke="#6a6a6a" stroke-width="0.8"/>
<line x1="414.80" y1="152.00" x2="418.00" y2="152.00" stroke="#6a6a6a" stroke-width="0.9"/>
<line x1="416.40" y1="197.20" x2="416.40" y2="200.40" stroke="#000" stroke-width="0.9"/>
<rect x="422.15" y="152.40" width="6.30" height="3.10" fill="#9a9a9a" stroke="#8a8a8a" stroke-width="0.8"/>
<rect x="421.75" y="162.60" width="7.10" height="34.60" fill="#9a9a9a"/>
<line x1="422.15" y1="162.60" x2="422.15" y2="197.20" stroke="#8a8a8a" stroke-width="0.8"/>
<line x1="428.45" y1="162.60" x2="428.45" y2="197.20" stroke="#8a8a8a" stroke-width="0.8"/>
<line x1="425.30" y1="151.30" x2="425.30" y2="152.00" stroke="#6a6a6a" stroke-width="0.8"/>
<line x1="423.70" y1="151.30" x2="426.90" y2="151.30" stroke="#6a6a6a" stroke-width="0.9"/>
<line x1="425.30" y1="197.20" x2="425.30" y2="200.40" stroke="#000" stroke-width="0.9"/>
<rect x="437.30" y="150.80" width="6.30" height="4.70" fill="#6c6c6c" stroke="#3c3c3c" stroke-width="0.8"/>
<rect x="436.90" y="162.60" width="7.10" height="34.60" fill="#6c6c6c"/>
<line x1="437.30" y1="162.60" x2="437.30" y2="197.20" stroke="#3c3c3c" stroke-width="0.8"/>
<line x1="443.60" y1="162.60" x2="443.60" y2="197.20" stroke="#3c3c3c" stroke-width="0.8"/>
<line x1="440.45" y1="148.20" x2="440.45" y2="150.40" stroke="#2a2a2a" stroke-width="0.8"/>
<line x1="438.85" y1="148.20" x2="442.05" y2="148.20" stroke="#2a2a2a" stroke-width="0.9"/>
<line x1="440.45" y1="197.20" x2="440.45" y2="200.40" stroke="#000" stroke-width="0.9"/>
<rect x="446.20" y="151.00" width="6.30" height="4.50" fill="#6c6c6c" stroke="#3c3c3c" stroke-width="0.8"/>
<rect x="445.80" y="162.60" width="7.10" height="34.60" fill="#6c6c6c"/>
<line x1="446.20" y1="162.60" x2="446.20" y2="197.20" stroke="#3c3c3c" stroke-width="0.8"/>
<line x1="452.50" y1="162.60" x2="452.50" y2="197.20" stroke="#3c3c3c" stroke-width="0.8"/>
<line x1="449.35" y1="148.00" x2="449.35" y2="150.60" stroke="#2a2a2a" stroke-width="0.8"/>
<line x1="447.75" y1="148.00" x2="450.95" y2="148.00" stroke="#2a2a2a" stroke-width="0.9"/>
<line x1="449.35" y1="197.20" x2="449.35" y2="200.40" stroke="#000" stroke-width="0.9"/>
<rect x="455.10" y="150.80" width="6.30" height="4.70" fill="#6c6c6c" stroke="#3c3c3c" stroke-width="0.8"/>
<rect x="454.70" y="162.60" width="7.10" height="34.60" fill="#6c6c6c"/>
<line x1="455.10" y1="162.60" x2="455.10" y2="197.20" stroke="#3c3c3c" stroke-width="0.8"/>
<line x1="461.40" y1="162.60" x2="461.40" y2="197.20" stroke="#3c3c3c" stroke-width="0.8"/>
<line x1="458.25" y1="148.20" x2="458.25" y2="150.40" stroke="#2a2a2a" stroke-width="0.8"/>
<line x1="456.65" y1="148.20" x2="459.85" y2="148.20" stroke="#2a2a2a" stroke-width="0.9"/>
<line x1="458.25" y1="197.20" x2="458.25" y2="200.40" stroke="#000" stroke-width="0.9"/>
<rect x="464.00" y="151.00" width="6.30" height="4.50" fill="#6c6c6c" stroke="#3c3c3c" stroke-width="0.8"/>
<rect x="463.60" y="162.60" width="7.10" height="34.60" fill="#6c6c6c"/>
<line x1="464.00" y1="162.60" x2="464.00" y2="197.20" stroke="#3c3c3c" stroke-width="0.8"/>
<line x1="470.30" y1="162.60" x2="470.30" y2="197.20" stroke="#3c3c3c" stroke-width="0.8"/>
<line x1="467.15" y1="148.60" x2="467.15" y2="150.60" stroke="#2a2a2a" stroke-width="0.8"/>
<line x1="465.55" y1="148.60" x2="468.75" y2="148.60" stroke="#2a2a2a" stroke-width="0.9"/>
<line x1="467.15" y1="197.20" x2="467.15" y2="200.40" stroke="#000" stroke-width="0.9"/>
<rect x="479.25" y="135.70" width="6.10" height="19.70" fill="#d8d8d8" stroke="#808080" stroke-width="1.0"/>
<rect x="478.75" y="162.60" width="7.10" height="34.60" fill="#d8d8d8"/>
<line x1="479.25" y1="162.60" x2="479.25" y2="197.20" stroke="#808080" stroke-width="1.0"/>
<line x1="485.35" y1="162.60" x2="485.35" y2="197.20" stroke="#808080" stroke-width="1.0"/>
<line x1="480.52" y1="135.70" x2="480.52" y2="155.60" stroke="#c4c4c4" stroke-width="0.5"/>
<line x1="480.52" y1="162.90" x2="480.52" y2="196.90" stroke="#c4c4c4" stroke-width="0.5"/>
<line x1="482.30" y1="135.70" x2="482.30" y2="155.60" stroke="#c4c4c4" stroke-width="0.5"/>
<line x1="482.30" y1="162.90" x2="482.30" y2="196.90" stroke="#c4c4c4" stroke-width="0.5"/>
<line x1="484.07" y1="135.70" x2="484.07" y2="155.60" stroke="#c4c4c4" stroke-width="0.5"/>
<line x1="484.07" y1="162.90" x2="484.07" y2="196.90" stroke="#c4c4c4" stroke-width="0.5"/>
<line x1="482.30" y1="133.20" x2="482.30" y2="135.20" stroke="#6c6c6c" stroke-width="0.8"/>
<line x1="480.70" y1="133.20" x2="483.90" y2="133.20" stroke="#6c6c6c" stroke-width="0.9"/>
<line x1="482.30" y1="197.20" x2="482.30" y2="200.40" stroke="#000" stroke-width="0.9"/>
<rect x="488.15" y="138.70" width="6.10" height="16.70" fill="#d8d8d8" stroke="#808080" stroke-width="1.0"/>
<rect x="487.65" y="162.60" width="7.10" height="34.60" fill="#d8d8d8"/>
<line x1="488.15" y1="162.60" x2="488.15" y2="197.20" stroke="#808080" stroke-width="1.0"/>
<line x1="494.25" y1="162.60" x2="494.25" y2="197.20" stroke="#808080" stroke-width="1.0"/>
<line x1="489.42" y1="138.70" x2="489.42" y2="155.60" stroke="#c4c4c4" stroke-width="0.5"/>
<line x1="489.42" y1="162.90" x2="489.42" y2="196.90" stroke="#c4c4c4" stroke-width="0.5"/>
<line x1="491.20" y1="138.70" x2="491.20" y2="155.60" stroke="#c4c4c4" stroke-width="0.5"/>
<line x1="491.20" y1="162.90" x2="491.20" y2="196.90" stroke="#c4c4c4" stroke-width="0.5"/>
<line x1="492.97" y1="138.70" x2="492.97" y2="155.60" stroke="#c4c4c4" stroke-width="0.5"/>
<line x1="492.97" y1="162.90" x2="492.97" y2="196.90" stroke="#c4c4c4" stroke-width="0.5"/>
<line x1="491.20" y1="133.50" x2="491.20" y2="138.20" stroke="#6c6c6c" stroke-width="0.8"/>
<line x1="489.60" y1="133.50" x2="492.80" y2="133.50" stroke="#6c6c6c" stroke-width="0.9"/>
<line x1="491.20" y1="197.20" x2="491.20" y2="200.40" stroke="#000" stroke-width="0.9"/>
<rect x="497.05" y="141.80" width="6.10" height="13.60" fill="#d8d8d8" stroke="#808080" stroke-width="1.0"/>
<rect x="496.55" y="162.60" width="7.10" height="34.60" fill="#d8d8d8"/>
<line x1="497.05" y1="162.60" x2="497.05" y2="197.20" stroke="#808080" stroke-width="1.0"/>
<line x1="503.15" y1="162.60" x2="503.15" y2="197.20" stroke="#808080" stroke-width="1.0"/>
<line x1="498.32" y1="141.80" x2="498.32" y2="155.60" stroke="#c4c4c4" stroke-width="0.5"/>
<line x1="498.32" y1="162.90" x2="498.32" y2="196.90" stroke="#c4c4c4" stroke-width="0.5"/>
<line x1="500.10" y1="141.80" x2="500.10" y2="155.60" stroke="#c4c4c4" stroke-width="0.5"/>
<line x1="500.10" y1="162.90" x2="500.10" y2="196.90" stroke="#c4c4c4" stroke-width="0.5"/>
<line x1="501.87" y1="141.80" x2="501.87" y2="155.60" stroke="#c4c4c4" stroke-width="0.5"/>
<line x1="501.87" y1="162.90" x2="501.87" y2="196.90" stroke="#c4c4c4" stroke-width="0.5"/>
<line x1="500.10" y1="136.80" x2="500.10" y2="141.30" stroke="#6c6c6c" stroke-width="0.8"/>
<line x1="498.50" y1="136.80" x2="501.70" y2="136.80" stroke="#6c6c6c" stroke-width="0.9"/>
<line x1="500.10" y1="197.20" x2="500.10" y2="200.40" stroke="#000" stroke-width="0.9"/>
<rect x="505.95" y="142.70" width="6.10" height="12.70" fill="#d8d8d8" stroke="#808080" stroke-width="1.0"/>
<rect x="505.45" y="162.60" width="7.10" height="34.60" fill="#d8d8d8"/>
<line x1="505.95" y1="162.60" x2="505.95" y2="197.20" stroke="#808080" stroke-width="1.0"/>
<line x1="512.05" y1="162.60" x2="512.05" y2="197.20" stroke="#808080" stroke-width="1.0"/>
<line x1="507.22" y1="142.70" x2="507.22" y2="155.60" stroke="#c4c4c4" stroke-width="0.5"/>
<line x1="507.22" y1="162.90" x2="507.22" y2="196.90" stroke="#c4c4c4" stroke-width="0.5"/>
<line x1="509.00" y1="142.70" x2="509.00" y2="155.60" stroke="#c4c4c4" stroke-width="0.5"/>
<line x1="509.00" y1="162.90" x2="509.00" y2="196.90" stroke="#c4c4c4" stroke-width="0.5"/>
<line x1="510.77" y1="142.70" x2="510.77" y2="155.60" stroke="#c4c4c4" stroke-width="0.5"/>
<line x1="510.77" y1="162.90" x2="510.77" y2="196.90" stroke="#c4c4c4" stroke-width="0.5"/>
<line x1="509.00" y1="139.30" x2="509.00" y2="142.20" stroke="#6c6c6c" stroke-width="0.8"/>
<line x1="507.40" y1="139.30" x2="510.60" y2="139.30" stroke="#6c6c6c" stroke-width="0.9"/>
<line x1="509.00" y1="197.20" x2="509.00" y2="200.40" stroke="#000" stroke-width="0.9"/>
<line x1="306.80" y1="197.20" x2="518.00" y2="197.20" stroke="#000" stroke-width="1.25"/>
<line x1="307.40" y1="121.60" x2="307.40" y2="155.90" stroke="#000" stroke-width="1.3"/>
<line x1="307.40" y1="162.60" x2="307.40" y2="197.20" stroke="#000" stroke-width="1.3"/>
<line x1="305.70" y1="156.00" x2="309.10" y2="156.00" stroke="#000" stroke-width="1.1"/>
<line x1="306.40" y1="162.70" x2="309.10" y2="162.70" stroke="#000" stroke-width="1.1"/>
<line x1="305.20" y1="121.60" x2="307.40" y2="121.60" stroke="#000" stroke-width="1.0"/>
<text x="303.60" y="124.47" font-size="6.3" font-weight="bold" text-anchor="end" fill="#000">800</text>
<line x1="305.20" y1="130.20" x2="307.40" y2="130.20" stroke="#000" stroke-width="1.0"/>
<text x="303.60" y="133.07" font-size="6.3" font-weight="bold" text-anchor="end" fill="#000">600</text>
<line x1="305.20" y1="138.90" x2="307.40" y2="138.90" stroke="#000" stroke-width="1.0"/>
<text x="303.60" y="141.77" font-size="6.3" font-weight="bold" text-anchor="end" fill="#000">400</text>
<line x1="305.20" y1="147.80" x2="307.40" y2="147.80" stroke="#000" stroke-width="1.0"/>
<text x="303.60" y="150.67" font-size="6.3" font-weight="bold" text-anchor="end" fill="#000">200</text>
<line x1="305.20" y1="162.60" x2="307.40" y2="162.60" stroke="#000" stroke-width="1.0"/>
<text x="303.60" y="165.47" font-size="6.3" font-weight="bold" text-anchor="end" fill="#000">10</text>
<line x1="305.20" y1="179.80" x2="307.40" y2="179.80" stroke="#000" stroke-width="1.0"/>
<text x="303.60" y="182.67" font-size="6.3" font-weight="bold" text-anchor="end" fill="#000">5</text>
<line x1="305.20" y1="197.00" x2="307.40" y2="197.00" stroke="#000" stroke-width="1.0"/>
<text x="303.60" y="199.87" font-size="6.3" font-weight="bold" text-anchor="end" fill="#000">0</text>
<line x1="322.60" y1="165.50" x2="340.90" y2="165.50" stroke="#222" stroke-width="0.9"/>
<line x1="322.60" y1="163.10" x2="322.60" y2="167.90" stroke="#222" stroke-width="0.9"/>
<line x1="340.90" y1="163.10" x2="340.90" y2="167.90" stroke="#222" stroke-width="0.9"/>
<circle cx="331.10" cy="161.70" r="1.0" fill="#111"/>
<text x="0" y="0" font-size="8.4" text-anchor="middle" fill="#111" transform="translate(288.50,154.80) scale(1.13,1) rotate(-90)">P-selectin</text>
<text x="277.60" y="120.80" font-size="14" font-weight="bold" text-anchor="start" fill="#000">E</text>
<rect x="311.55" y="251.70" width="6.10" height="33.70" fill="#585858" stroke="#2a2a2a" stroke-width="0.8"/>
<line x1="314.60" y1="249.80" x2="314.60" y2="251.30" stroke="#1a1a1a" stroke-width="0.8"/>
<line x1="313.00" y1="249.80" x2="316.20" y2="249.80" stroke="#1a1a1a" stroke-width="0.9"/>
<line x1="314.60" y1="285.80" x2="314.60" y2="289.00" stroke="#000" stroke-width="0.9"/>
<rect x="320.35" y="236.20" width="6.10" height="49.20" fill="#585858" stroke="#2a2a2a" stroke-width="0.8"/>
<line x1="323.40" y1="229.60" x2="323.40" y2="235.80" stroke="#1a1a1a" stroke-width="0.8"/>
<line x1="321.80" y1="229.60" x2="325.00" y2="229.60" stroke="#1a1a1a" stroke-width="0.9"/>
<line x1="323.40" y1="285.80" x2="323.40" y2="289.00" stroke="#000" stroke-width="0.9"/>
<rect x="329.15" y="236.50" width="6.10" height="48.90" fill="#585858" stroke="#2a2a2a" stroke-width="0.8"/>
<line x1="332.20" y1="231.50" x2="332.20" y2="236.10" stroke="#1a1a1a" stroke-width="0.8"/>
<line x1="330.60" y1="231.50" x2="333.80" y2="231.50" stroke="#1a1a1a" stroke-width="0.9"/>
<line x1="332.20" y1="285.80" x2="332.20" y2="289.00" stroke="#000" stroke-width="0.9"/>
<rect x="337.95" y="230.30" width="6.10" height="55.10" fill="#585858" stroke="#2a2a2a" stroke-width="0.8"/>
<line x1="341.00" y1="223.60" x2="341.00" y2="229.90" stroke="#1a1a1a" stroke-width="0.8"/>
<line x1="339.40" y1="223.60" x2="342.60" y2="223.60" stroke="#1a1a1a" stroke-width="0.9"/>
<line x1="341.00" y1="285.80" x2="341.00" y2="289.00" stroke="#000" stroke-width="0.9"/>
<rect x="352.75" y="255.00" width="6.10" height="30.40" fill="#000000" stroke="#000000" stroke-width="0.8"/>
<line x1="355.80" y1="252.60" x2="355.80" y2="254.60" stroke="#000000" stroke-width="0.8"/>
<line x1="354.20" y1="252.60" x2="357.40" y2="252.60" stroke="#000000" stroke-width="0.9"/>
<line x1="355.80" y1="285.80" x2="355.80" y2="289.00" stroke="#000" stroke-width="0.9"/>
<rect x="361.55" y="243.40" width="6.10" height="42.00" fill="#000000" stroke="#000000" stroke-width="0.8"/>
<line x1="364.60" y1="239.40" x2="364.60" y2="243.00" stroke="#000000" stroke-width="0.8"/>
<line x1="363.00" y1="239.40" x2="366.20" y2="239.40" stroke="#000000" stroke-width="0.9"/>
<line x1="364.60" y1="285.80" x2="364.60" y2="289.00" stroke="#000" stroke-width="0.9"/>
<rect x="370.35" y="239.30" width="6.10" height="46.10" fill="#000000" stroke="#000000" stroke-width="0.8"/>
<line x1="373.40" y1="232.00" x2="373.40" y2="238.90" stroke="#000000" stroke-width="0.8"/>
<line x1="371.80" y1="232.00" x2="375.00" y2="232.00" stroke="#000000" stroke-width="0.9"/>
<line x1="373.40" y1="285.80" x2="373.40" y2="289.00" stroke="#000" stroke-width="0.9"/>
<rect x="379.15" y="236.80" width="6.10" height="48.60" fill="#000000" stroke="#000000" stroke-width="0.8"/>
<line x1="382.20" y1="231.00" x2="382.20" y2="236.40" stroke="#000000" stroke-width="0.8"/>
<line x1="380.60" y1="231.00" x2="383.80" y2="231.00" stroke="#000000" stroke-width="0.9"/>
<line x1="382.20" y1="285.80" x2="382.20" y2="289.00" stroke="#000" stroke-width="0.9"/>
<rect x="393.95" y="259.10" width="6.10" height="26.30" fill="#9a9a9a" stroke="#8a8a8a" stroke-width="0.8"/>
<line x1="397.00" y1="258.00" x2="397.00" y2="258.70" stroke="#6a6a6a" stroke-width="0.8"/>
<line x1="395.40" y1="258.00" x2="398.60" y2="258.00" stroke="#6a6a6a" stroke-width="0.9"/>
<line x1="397.00" y1="285.80" x2="397.00" y2="289.00" stroke="#000" stroke-width="0.9"/>
<rect x="402.75" y="249.40" width="6.10" height="36.00" fill="#9a9a9a" stroke="#8a8a8a" stroke-width="0.8"/>
<line x1="405.80" y1="245.00" x2="405.80" y2="249.00" stroke="#6a6a6a" stroke-width="0.8"/>
<line x1="404.20" y1="245.00" x2="407.40" y2="245.00" stroke="#6a6a6a" stroke-width="0.9"/>
<line x1="405.80" y1="285.80" x2="405.80" y2="289.00" stroke="#000" stroke-width="0.9"/>
<rect x="411.55" y="246.40" width="6.10" height="39.00" fill="#9a9a9a" stroke="#8a8a8a" stroke-width="0.8"/>
<line x1="414.60" y1="241.20" x2="414.60" y2="246.00" stroke="#6a6a6a" stroke-width="0.8"/>
<line x1="413.00" y1="241.20" x2="416.20" y2="241.20" stroke="#6a6a6a" stroke-width="0.9"/>
<line x1="414.60" y1="285.80" x2="414.60" y2="289.00" stroke="#000" stroke-width="0.9"/>
<rect x="420.35" y="242.00" width="6.10" height="43.40" fill="#9a9a9a" stroke="#8a8a8a" stroke-width="0.8"/>
<line x1="423.40" y1="236.40" x2="423.40" y2="241.60" stroke="#6a6a6a" stroke-width="0.8"/>
<line x1="421.80" y1="236.40" x2="425.00" y2="236.40" stroke="#6a6a6a" stroke-width="0.9"/>
<line x1="423.40" y1="285.80" x2="423.40" y2="289.00" stroke="#000" stroke-width="0.9"/>
<rect x="435.15" y="257.20" width="6.10" height="28.20" fill="#6c6c6c" stroke="#3c3c3c" stroke-width="0.8"/>
<line x1="438.20" y1="254.60" x2="438.20" y2="256.80" stroke="#2a2a2a" stroke-width="0.8"/>
<line x1="436.60" y1="254.60" x2="439.80" y2="254.60" stroke="#2a2a2a" stroke-width="0.9"/>
<line x1="438.20" y1="285.80" x2="438.20" y2="289.00" stroke="#000" stroke-width="0.9"/>
<rect x="443.95" y="245.00" width="6.10" height="40.40" fill="#6c6c6c" stroke="#3c3c3c" stroke-width="0.8"/>
<line x1="447.00" y1="239.80" x2="447.00" y2="244.60" stroke="#2a2a2a" stroke-width="0.8"/>
<line x1="445.40" y1="239.80" x2="448.60" y2="239.80" stroke="#2a2a2a" stroke-width="0.9"/>
<line x1="447.00" y1="285.80" x2="447.00" y2="289.00" stroke="#000" stroke-width="0.9"/>
<rect x="452.75" y="245.00" width="6.10" height="40.40" fill="#6c6c6c" stroke="#3c3c3c" stroke-width="0.8"/>
<line x1="455.80" y1="237.00" x2="455.80" y2="244.60" stroke="#2a2a2a" stroke-width="0.8"/>
<line x1="454.20" y1="237.00" x2="457.40" y2="237.00" stroke="#2a2a2a" stroke-width="0.9"/>
<line x1="455.80" y1="285.80" x2="455.80" y2="289.00" stroke="#000" stroke-width="0.9"/>
<rect x="461.55" y="241.60" width="6.10" height="43.80" fill="#6c6c6c" stroke="#3c3c3c" stroke-width="0.8"/>
<line x1="464.60" y1="233.60" x2="464.60" y2="241.20" stroke="#2a2a2a" stroke-width="0.8"/>
<line x1="463.00" y1="233.60" x2="466.20" y2="233.60" stroke="#2a2a2a" stroke-width="0.9"/>
<line x1="464.60" y1="285.80" x2="464.60" y2="289.00" stroke="#000" stroke-width="0.9"/>
<rect x="476.45" y="267.80" width="5.90" height="17.50" fill="#d8d8d8" stroke="#808080" stroke-width="1.0"/>
<line x1="477.68" y1="267.80" x2="477.68" y2="285.50" stroke="#c4c4c4" stroke-width="0.5"/>
<line x1="479.40" y1="267.80" x2="479.40" y2="285.50" stroke="#c4c4c4" stroke-width="0.5"/>
<line x1="481.13" y1="267.80" x2="481.13" y2="285.50" stroke="#c4c4c4" stroke-width="0.5"/>
<line x1="479.40" y1="265.90" x2="479.40" y2="267.30" stroke="#6c6c6c" stroke-width="0.8"/>
<line x1="477.80" y1="265.90" x2="481.00" y2="265.90" stroke="#6c6c6c" stroke-width="0.9"/>
<line x1="479.40" y1="285.80" x2="479.40" y2="289.00" stroke="#000" stroke-width="0.9"/>
<rect x="485.25" y="255.10" width="5.90" height="30.20" fill="#d8d8d8" stroke="#808080" stroke-width="1.0"/>
<line x1="486.48" y1="255.10" x2="486.48" y2="285.50" stroke="#c4c4c4" stroke-width="0.5"/>
<line x1="488.20" y1="255.10" x2="488.20" y2="285.50" stroke="#c4c4c4" stroke-width="0.5"/>
<line x1="489.93" y1="255.10" x2="489.93" y2="285.50" stroke="#c4c4c4" stroke-width="0.5"/>
<line x1="488.20" y1="249.70" x2="488.20" y2="254.60" stroke="#6c6c6c" stroke-width="0.8"/>
<line x1="486.60" y1="249.70" x2="489.80" y2="249.70" stroke="#6c6c6c" stroke-width="0.9"/>
<line x1="488.20" y1="285.80" x2="488.20" y2="289.00" stroke="#000" stroke-width="0.9"/>
<rect x="494.05" y="252.20" width="5.90" height="33.10" fill="#d8d8d8" stroke="#808080" stroke-width="1.0"/>
<line x1="495.28" y1="252.20" x2="495.28" y2="285.50" stroke="#c4c4c4" stroke-width="0.5"/>
<line x1="497.00" y1="252.20" x2="497.00" y2="285.50" stroke="#c4c4c4" stroke-width="0.5"/>
<line x1="498.73" y1="252.20" x2="498.73" y2="285.50" stroke="#c4c4c4" stroke-width="0.5"/>
<line x1="497.00" y1="245.50" x2="497.00" y2="251.70" stroke="#6c6c6c" stroke-width="0.8"/>
<line x1="495.40" y1="245.50" x2="498.60" y2="245.50" stroke="#6c6c6c" stroke-width="0.9"/>
<line x1="497.00" y1="285.80" x2="497.00" y2="289.00" stroke="#000" stroke-width="0.9"/>
<rect x="502.85" y="250.20" width="5.90" height="35.10" fill="#d8d8d8" stroke="#808080" stroke-width="1.0"/>
<line x1="504.08" y1="250.20" x2="504.08" y2="285.50" stroke="#c4c4c4" stroke-width="0.5"/>
<line x1="505.80" y1="250.20" x2="505.80" y2="285.50" stroke="#c4c4c4" stroke-width="0.5"/>
<line x1="507.53" y1="250.20" x2="507.53" y2="285.50" stroke="#c4c4c4" stroke-width="0.5"/>
<line x1="505.80" y1="242.70" x2="505.80" y2="249.70" stroke="#6c6c6c" stroke-width="0.8"/>
<line x1="504.20" y1="242.70" x2="507.40" y2="242.70" stroke="#6c6c6c" stroke-width="0.9"/>
<line x1="505.80" y1="285.80" x2="505.80" y2="289.00" stroke="#000" stroke-width="0.9"/>
<line x1="306.50" y1="285.80" x2="510.00" y2="285.80" stroke="#000" stroke-width="1.25"/>
<line x1="307.10" y1="215.50" x2="307.10" y2="285.80" stroke="#000" stroke-width="1.3"/>
<line x1="304.90" y1="215.50" x2="307.10" y2="215.50" stroke="#000" stroke-width="1.0"/>
<text x="302.70" y="218.26" font-size="6.0" font-weight="normal" text-anchor="end" fill="#000">600</text>
<line x1="304.90" y1="238.80" x2="307.10" y2="238.80" stroke="#000" stroke-width="1.0"/>
<text x="302.70" y="241.56" font-size="6.0" font-weight="normal" text-anchor="end" fill="#000">400</text>
<line x1="304.90" y1="262.50" x2="307.10" y2="262.50" stroke="#000" stroke-width="1.0"/>
<text x="302.70" y="265.26" font-size="6.0" font-weight="normal" text-anchor="end" fill="#000">200</text>
<line x1="304.90" y1="285.80" x2="307.10" y2="285.80" stroke="#000" stroke-width="1.0"/>
<text x="302.70" y="288.56" font-size="6.0" font-weight="normal" text-anchor="end" fill="#000">0</text>
<line x1="322.20" y1="217.70" x2="339.50" y2="217.70" stroke="#222" stroke-width="0.9"/>
<line x1="322.20" y1="215.30" x2="322.20" y2="220.10" stroke="#222" stroke-width="0.9"/>
<line x1="339.50" y1="215.30" x2="339.50" y2="220.10" stroke="#222" stroke-width="0.9"/>
<circle cx="330.90" cy="213.60" r="1.0" fill="#111"/>
<text x="0" y="0" font-size="7.5" text-anchor="middle" fill="#111" transform="translate(287.20,256.20) scale(1.13,1) rotate(-90)">GPIb</text>
<text x="277.20" y="217.50" font-size="14" font-weight="bold" text-anchor="start" fill="#000">F</text>
<text x="314.60" y="295.30" font-size="5.8" font-weight="bold" text-anchor="middle" fill="#111">C</text>
<text x="323.40" y="295.30" font-size="5.8" font-weight="bold" text-anchor="middle" fill="#111">D0</text>
<text x="332.20" y="295.30" font-size="5.8" font-weight="bold" text-anchor="middle" fill="#111">D7</text>
<text x="341.00" y="295.30" font-size="5.8" font-weight="bold" text-anchor="middle" fill="#111">D28</text>
<text x="313.70" y="301.90" font-size="5.8" font-weight="bold" text-anchor="start" fill="#111">No Agonist</text>
<text x="355.80" y="295.30" font-size="5.8" font-weight="bold" text-anchor="middle" fill="#111">C</text>
<text x="364.60" y="295.30" font-size="5.8" font-weight="bold" text-anchor="middle" fill="#111">D0</text>
<text x="373.40" y="295.30" font-size="5.8" font-weight="bold" text-anchor="middle" fill="#111">D7</text>
<text x="382.20" y="295.30" font-size="5.8" font-weight="bold" text-anchor="middle" fill="#111">D28</text>
<text x="360.70" y="301.90" font-size="5.8" font-weight="bold" text-anchor="start" fill="#111">Low ADP</text>
<text x="397.00" y="295.30" font-size="5.8" font-weight="bold" text-anchor="middle" fill="#111">C</text>
<text x="405.80" y="295.30" font-size="5.8" font-weight="bold" text-anchor="middle" fill="#111">D0</text>
<text x="414.60" y="295.30" font-size="5.8" font-weight="bold" text-anchor="middle" fill="#111">D7</text>
<text x="423.40" y="295.30" font-size="5.8" font-weight="bold" text-anchor="middle" fill="#111">D28</text>
<text x="401.30" y="301.90" font-size="5.8" font-weight="bold" text-anchor="start" fill="#111">High ADP</text>
<text x="438.20" y="295.30" font-size="5.8" font-weight="bold" text-anchor="middle" fill="#111">C</text>
<text x="447.00" y="295.30" font-size="5.8" font-weight="bold" text-anchor="middle" fill="#111">D0</text>
<text x="455.80" y="295.30" font-size="5.8" font-weight="bold" text-anchor="middle" fill="#111">D7</text>
<text x="464.60" y="295.30" font-size="5.8" font-weight="bold" text-anchor="middle" fill="#111">D28</text>
<text x="441.30" y="301.90" font-size="5.8" font-weight="bold" text-anchor="start" fill="#111">Low TRAP</text>
<text x="479.40" y="295.30" font-size="5.8" font-weight="bold" text-anchor="middle" fill="#111">C</text>
<text x="488.20" y="295.30" font-size="5.8" font-weight="bold" text-anchor="middle" fill="#111">D0</text>
<text x="497.00" y="295.30" font-size="5.8" font-weight="bold" text-anchor="middle" fill="#111">D7</text>
<text x="505.80" y="295.30" font-size="5.8" font-weight="bold" text-anchor="middle" fill="#111">D28</text>
<text x="482.00" y="301.90" font-size="5.8" font-weight="bold" text-anchor="start" fill="#111">High TRAP</text>
<text x="151.50" y="8.00" font-size="8.6" font-weight="bold" text-anchor="middle" fill="#111">Responders</text>
<text x="425.70" y="8.00" font-size="8.6" font-weight="bold" text-anchor="middle" fill="#111">Non-responders</text>
</svg>
</body></html>
